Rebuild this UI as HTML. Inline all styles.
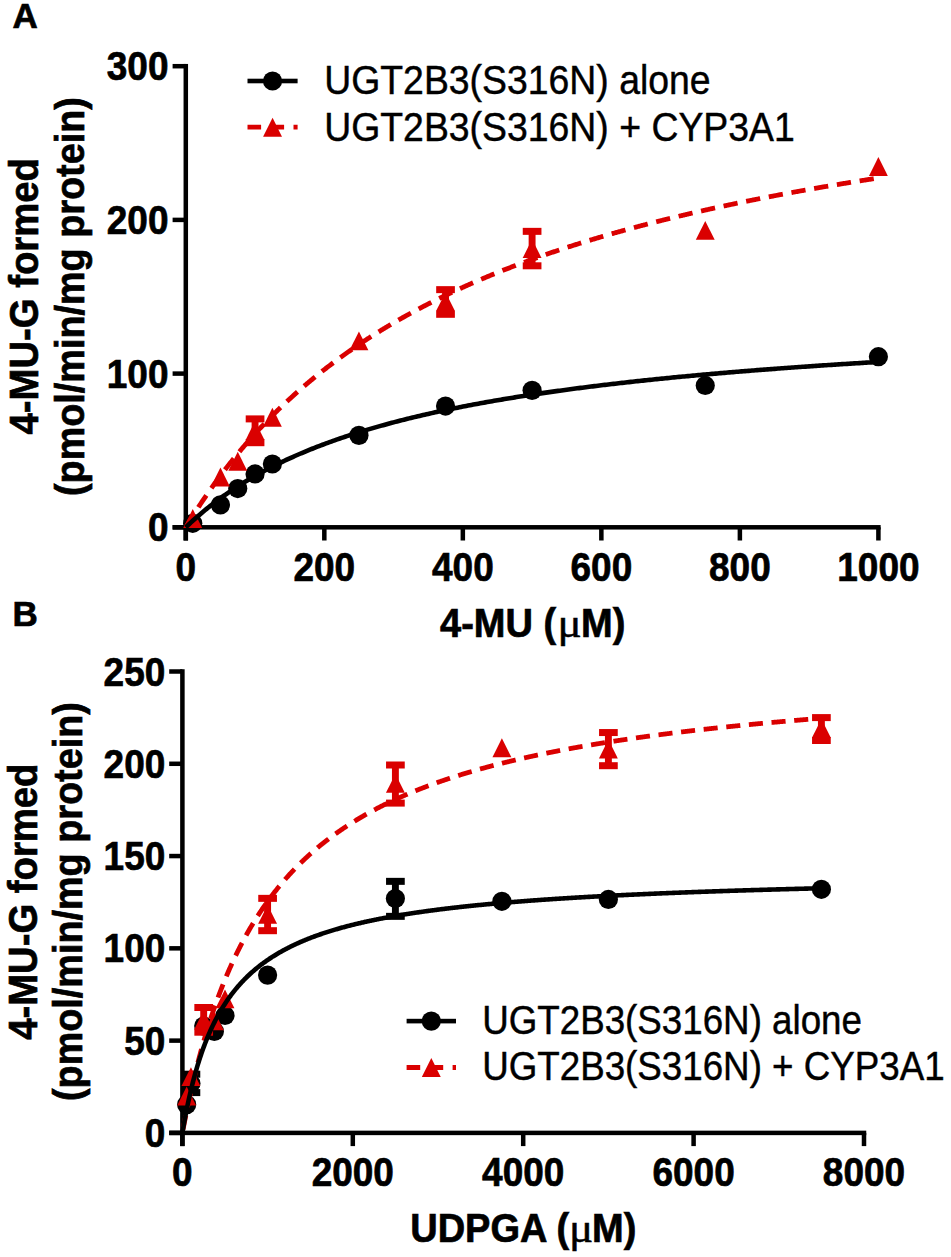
<!DOCTYPE html>
<html><head><meta charset="utf-8"><style>html,body{margin:0;padding:0;background:#fff;width:951px;height:1257px;overflow:hidden}svg{display:block}</style></head>
<body><svg width="951" height="1257" viewBox="0 0 951 1257">
<rect width="951" height="1257" fill="#fff"/>
<text transform="translate(12.60,27.80) scale(1,1)" font-family="Liberation Sans" font-weight="bold" stroke="#000" stroke-width="0.7" font-size="35" text-anchor="start">A</text>
<rect x="183.55" y="63.95" width="4.5" height="476.55" fill="#000"/>
<rect x="172.60" y="525.05" width="708.05" height="4.5" fill="#000"/>
<rect x="172.60" y="525.05" width="13.20" height="4.5" fill="#000"/>
<rect x="172.60" y="371.35" width="13.20" height="4.5" fill="#000"/>
<rect x="172.60" y="217.65" width="13.20" height="4.5" fill="#000"/>
<rect x="172.60" y="63.95" width="13.20" height="4.5" fill="#000"/>
<rect x="183.55" y="527.30" width="4.5" height="13.20" fill="#000"/>
<rect x="322.07" y="527.30" width="4.5" height="13.20" fill="#000"/>
<rect x="460.59" y="527.30" width="4.5" height="13.20" fill="#000"/>
<rect x="599.11" y="527.30" width="4.5" height="13.20" fill="#000"/>
<rect x="737.63" y="527.30" width="4.5" height="13.20" fill="#000"/>
<rect x="876.15" y="527.30" width="4.5" height="13.20" fill="#000"/>
<text transform="translate(168.50,541.30) scale(0.925,1)" font-family="Liberation Sans" font-weight="bold" stroke="#000" stroke-width="0.7" font-size="40" text-anchor="end">0</text>
<text transform="translate(168.50,387.60) scale(0.925,1)" font-family="Liberation Sans" font-weight="bold" stroke="#000" stroke-width="0.7" font-size="40" text-anchor="end">100</text>
<text transform="translate(168.50,233.90) scale(0.925,1)" font-family="Liberation Sans" font-weight="bold" stroke="#000" stroke-width="0.7" font-size="40" text-anchor="end">200</text>
<text transform="translate(168.50,80.20) scale(0.925,1)" font-family="Liberation Sans" font-weight="bold" stroke="#000" stroke-width="0.7" font-size="40" text-anchor="end">300</text>
<text transform="translate(185.80,581.00) scale(0.925,1)" font-family="Liberation Sans" font-weight="bold" stroke="#000" stroke-width="0.7" font-size="40" text-anchor="middle">0</text>
<text transform="translate(324.32,581.00) scale(0.925,1)" font-family="Liberation Sans" font-weight="bold" stroke="#000" stroke-width="0.7" font-size="40" text-anchor="middle">200</text>
<text transform="translate(462.84,581.00) scale(0.925,1)" font-family="Liberation Sans" font-weight="bold" stroke="#000" stroke-width="0.7" font-size="40" text-anchor="middle">400</text>
<text transform="translate(601.36,581.00) scale(0.925,1)" font-family="Liberation Sans" font-weight="bold" stroke="#000" stroke-width="0.7" font-size="40" text-anchor="middle">600</text>
<text transform="translate(739.88,581.00) scale(0.925,1)" font-family="Liberation Sans" font-weight="bold" stroke="#000" stroke-width="0.7" font-size="40" text-anchor="middle">800</text>
<text transform="translate(878.40,581.00) scale(0.925,1)" font-family="Liberation Sans" font-weight="bold" stroke="#000" stroke-width="0.7" font-size="40" text-anchor="middle">1000</text>
<text transform="translate(38.20,296.30) rotate(-90) scale(0.957,1)" font-family="Liberation Sans" font-weight="bold" stroke="#000" stroke-width="0.7" font-size="40" text-anchor="middle">4-MU-G formed</text>
<text transform="translate(83.80,296.60) rotate(-90) scale(0.945,1)" font-family="Liberation Sans" font-weight="bold" stroke="#000" stroke-width="0.7" font-size="40" text-anchor="middle">(pmol/min/mg protein)</text>
<text transform="translate(440.00,636.50) scale(0.95,1)" font-family="Liberation Sans" font-weight="bold" stroke="#000" stroke-width="0.7" font-size="40">4-MU (</text>
<text transform="translate(557.60,636.50) scale(1.1,1)" font-family="Liberation Serif" font-size="41" stroke="#000" stroke-width="0.5">μ</text>
<text transform="translate(581.00,636.50) scale(0.95,1)" font-family="Liberation Sans" font-weight="bold" stroke="#000" stroke-width="0.7" font-size="40">M)</text>
<rect x="247.50" y="78.70" width="50.10" height="4.6" fill="#000"/>
<circle cx="272.55" cy="81.00" r="9.6" fill="#000"/>
<line x1="247.50" y1="127.20" x2="297.60" y2="127.20" stroke="#DA0000" stroke-width="4.8" stroke-dasharray="13.6 9.4"/>
<path d="M272.55 117.75L282.00 136.65L263.10 136.65Z" fill="#DA0000"/>
<text transform="translate(324.20,94.00) scale(0.923,1)" font-family="Liberation Sans" font-size="40.5" stroke="#000" stroke-width="0.45">UGT2B3(S316N) alone</text>
<text transform="translate(324.20,140.60) scale(0.923,1)" font-family="Liberation Sans" font-size="40.5" stroke="#000" stroke-width="0.45">UGT2B3(S316N) + CYP3A1</text>
<circle cx="192.73" cy="523.30" r="9.6" fill="#000"/>
<circle cx="220.43" cy="504.86" r="9.6" fill="#000"/>
<circle cx="237.75" cy="488.57" r="9.6" fill="#000"/>
<circle cx="255.06" cy="473.97" r="9.6" fill="#000"/>
<circle cx="272.38" cy="463.98" r="9.6" fill="#000"/>
<circle cx="358.95" cy="435.39" r="9.6" fill="#000"/>
<circle cx="445.53" cy="406.03" r="9.6" fill="#000"/>
<circle cx="532.10" cy="390.35" r="9.6" fill="#000"/>
<circle cx="705.25" cy="385.43" r="9.6" fill="#000"/>
<circle cx="878.40" cy="356.69" r="9.6" fill="#000"/>
<path d="M192.73 509.09L202.18 527.99L183.28 527.99Z" fill="#DA0000"/>
<path d="M220.43 467.59L229.88 486.49L210.98 486.49Z" fill="#DA0000"/>
<path d="M237.75 451.76L247.19 470.66L228.30 470.66Z" fill="#DA0000"/>
<rect x="251.61" y="418.90" width="6.9" height="23.80" fill="#DA0000"/>
<rect x="245.71" y="415.40" width="18.7" height="7.0" fill="#DA0000"/>
<rect x="245.71" y="439.20" width="18.7" height="7.0" fill="#DA0000"/>
<path d="M255.06 421.02L264.51 439.92L245.61 439.92Z" fill="#DA0000"/>
<path d="M272.38 407.80L281.82 426.70L262.93 426.70Z" fill="#DA0000"/>
<path d="M358.95 331.41L368.40 350.31L349.50 350.31Z" fill="#DA0000"/>
<rect x="442.08" y="289.65" width="6.9" height="24.65" fill="#DA0000"/>
<rect x="436.18" y="286.15" width="18.7" height="7.0" fill="#DA0000"/>
<rect x="436.18" y="310.80" width="18.7" height="7.0" fill="#DA0000"/>
<path d="M445.53 292.22L454.98 311.12L436.08 311.12Z" fill="#DA0000"/>
<rect x="528.65" y="231.35" width="6.9" height="34.45" fill="#DA0000"/>
<rect x="522.75" y="227.85" width="18.7" height="7.0" fill="#DA0000"/>
<rect x="522.75" y="262.30" width="18.7" height="7.0" fill="#DA0000"/>
<path d="M532.10 239.19L541.55 258.09L522.65 258.09Z" fill="#DA0000"/>
<path d="M705.25 220.90L714.70 239.80L695.80 239.80Z" fill="#DA0000"/>
<path d="M878.40 157.12L887.85 176.02L868.95 176.02Z" fill="#DA0000"/>
<path d="M185.80,527.30 L186.49,526.15 L187.19,525.01 L187.88,523.87 L188.57,522.74 L189.26,521.61 L189.96,520.49 L190.65,519.38 L191.34,518.26 L192.03,517.16 L192.73,516.06 L193.42,514.96 L194.11,513.87 L194.80,512.78 L195.50,511.70 L196.19,510.62 L196.88,509.55 L197.57,508.48 L198.27,507.42 L198.96,506.36 L199.65,505.31 L200.34,504.26 L201.04,503.21 L201.73,502.17 L202.42,501.14 L203.12,500.11 L203.81,499.08 L204.50,498.06 L205.19,497.04 L205.89,496.03 L206.58,495.02 L207.27,494.01 L207.96,493.01 L208.66,492.02 L209.35,491.02 L210.04,490.04 L210.73,489.05 L211.43,488.07 L212.12,487.10 L212.81,486.13 L213.50,485.16 L214.20,484.20 L214.89,483.24 L215.58,482.28 L216.27,481.33 L216.97,480.39 L217.66,479.44 L218.35,478.50 L219.04,477.57 L219.74,476.64 L220.43,475.71 L221.12,474.78 L221.82,473.86 L222.51,472.95 L223.20,472.04 L223.89,471.13 L224.59,470.22 L225.28,469.32 L225.97,468.42 L226.66,467.53 L227.36,466.64 L228.05,465.75 L228.74,464.87 L229.43,463.99 L230.13,463.11 L230.82,462.24 L231.51,461.37 L232.20,460.50 L232.90,459.64 L233.59,458.78 L234.28,457.93 L234.97,457.07 L235.67,456.22 L236.36,455.38 L237.05,454.54 L237.75,453.70 L238.44,452.86 L239.13,452.03 L239.82,451.20 L240.52,450.37 L241.21,449.55 L241.90,448.73 L242.59,447.91 L243.29,447.10 L243.98,446.29 L244.67,445.48 L245.36,444.68 L246.06,443.88 L246.75,443.08 L247.44,442.29 L248.13,441.49 L248.83,440.71 L249.52,439.92 L250.21,439.14 L250.90,438.36 L251.60,437.58 L252.29,436.81 L252.98,436.03 L253.67,435.27 L254.37,434.50 L255.06,433.74 L255.75,432.98 L256.45,432.22 L257.14,431.47 L257.83,430.72 L258.52,429.97 L259.22,429.22 L259.91,428.48 L260.60,427.74 L261.29,427.00 L261.99,426.27 L262.68,425.53 L263.37,424.80 L264.06,424.08 L264.76,423.35 L265.45,422.63 L266.14,421.91 L266.83,421.20 L267.53,420.48 L268.22,419.77 L268.91,419.06 L269.60,418.36 L270.30,417.65 L270.99,416.95 L271.68,416.25 L272.38,415.56 L273.07,414.86 L273.76,414.17 L274.45,413.48 L275.15,412.80 L275.84,412.11 L276.53,411.43 L277.22,410.75 L277.92,410.08 L278.61,409.40 L279.30,408.73 L279.99,408.06 L280.69,407.39 L281.38,406.73 L282.07,406.07 L282.76,405.41 L283.46,404.75 L284.15,404.09 L284.84,403.44 L285.53,402.79 L286.23,402.14 L286.92,401.49 L287.61,400.85 L288.30,400.21 L289.00,399.57 L289.69,398.93 L290.38,398.29 L291.08,397.66 L291.77,397.03 L292.46,396.40 L293.15,395.77 L293.85,395.15 L294.54,394.52 L295.23,393.90 L295.92,393.28 L296.62,392.67 L297.31,392.05 L298.00,391.44 L298.69,390.83 L299.39,390.22 L300.08,389.61 L300.77,389.01 L301.46,388.41 L302.16,387.81 L302.85,387.21 L303.54,386.61 L304.23,386.02 L304.93,385.42 L305.62,384.83 L306.31,384.25 L307.00,383.66 L307.70,383.07 L308.39,382.49 L309.08,381.91 L309.78,381.33 L310.47,380.75 L311.16,380.18 L311.85,379.60 L312.55,379.03 L313.24,378.46 L313.93,377.90 L314.62,377.33 L315.32,376.76 L316.01,376.20 L316.70,375.64 L317.39,375.08 L318.09,374.53 L318.78,373.97 L319.47,373.42 L320.16,372.86 L320.86,372.31 L321.55,371.77 L322.24,371.22 L322.93,370.67 L323.63,370.13 L324.32,369.59 L325.01,369.05 L325.71,368.51 L326.40,367.98 L327.09,367.44 L327.78,366.91 L328.48,366.38 L329.17,365.85 L329.86,365.32 L330.55,364.79 L331.25,364.27 L331.94,363.74 L332.63,363.22 L333.32,362.70 L334.02,362.18 L334.71,361.67 L335.40,361.15 L336.09,360.64 L336.79,360.13 L337.48,359.61 L338.17,359.11 L338.86,358.60 L339.56,358.09 L340.25,357.59 L340.94,357.09 L341.63,356.58 L342.33,356.08 L343.02,355.59 L343.71,355.09 L344.41,354.59 L345.10,354.10 L345.79,353.61 L346.48,353.12 L347.18,352.63 L347.87,352.14 L348.56,351.65 L349.25,351.17 L349.95,350.68 L350.64,350.20 L351.33,349.72 L352.02,349.24 L352.72,348.76 L353.41,348.29 L354.10,347.81 L354.79,347.34 L355.49,346.87 L356.18,346.40 L356.87,345.93 L357.56,345.46 L358.26,344.99 L358.95,344.53 L359.64,344.06 L360.34,343.60 L361.03,343.14 L361.72,342.68 L362.41,342.22 L363.11,341.76 L363.80,341.31 L364.49,340.85 L365.18,340.40 L365.88,339.95 L366.57,339.50 L367.26,339.05 L367.95,338.60 L368.65,338.15 L369.34,337.70 L370.03,337.26 L370.72,336.82 L371.42,336.38 L372.11,335.93 L372.80,335.49 L373.49,335.06 L374.19,334.62 L374.88,334.18 L375.57,333.75 L376.26,333.32 L376.96,332.88 L377.65,332.45 L378.34,332.02 L379.04,331.60 L379.73,331.17 L380.42,330.74 L381.11,330.32 L381.81,329.89 L382.50,329.47 L383.19,329.05 L383.88,328.63 L384.58,328.21 L385.27,327.79 L385.96,327.38 L386.65,326.96 L387.35,326.55 L388.04,326.13 L388.73,325.72 L389.42,325.31 L390.12,324.90 L390.81,324.49 L391.50,324.08 L392.19,323.68 L392.89,323.27 L393.58,322.87 L394.27,322.46 L394.97,322.06 L395.66,321.66 L396.35,321.26 L397.04,320.86 L397.74,320.46 L398.43,320.07 L399.12,319.67 L399.81,319.28 L400.51,318.88 L401.20,318.49 L401.89,318.10 L402.58,317.71 L403.28,317.32 L403.97,316.93 L404.66,316.55 L405.35,316.16 L406.05,315.77 L406.74,315.39 L407.43,315.01 L408.12,314.62 L408.82,314.24 L409.51,313.86 L410.20,313.48 L410.89,313.11 L411.59,312.73 L412.28,312.35 L412.97,311.98 L413.67,311.60 L414.36,311.23 L415.05,310.86 L415.74,310.49 L416.44,310.12 L417.13,309.75 L417.82,309.38 L418.51,309.01 L419.21,308.64 L419.90,308.28 L420.59,307.91 L421.28,307.55 L421.98,307.19 L422.67,306.83 L423.36,306.46 L424.05,306.10 L424.75,305.75 L425.44,305.39 L426.13,305.03 L426.82,304.67 L427.52,304.32 L428.21,303.96 L428.90,303.61 L429.60,303.26 L430.29,302.91 L430.98,302.55 L431.67,302.20 L432.37,301.86 L433.06,301.51 L433.75,301.16 L434.44,300.81 L435.14,300.47 L435.83,300.12 L436.52,299.78 L437.21,299.44 L437.91,299.09 L438.60,298.75 L439.29,298.41 L439.98,298.07 L440.68,297.73 L441.37,297.40 L442.06,297.06 L442.75,296.72 L443.45,296.39 L444.14,296.05 L444.83,295.72 L445.53,295.39 L446.22,295.05 L446.91,294.72 L447.60,294.39 L448.30,294.06 L448.99,293.73 L449.68,293.41 L450.37,293.08 L451.07,292.75 L451.76,292.43 L452.45,292.10 L453.14,291.78 L453.84,291.45 L454.53,291.13 L455.22,290.81 L455.91,290.49 L456.61,290.17 L457.30,289.85 L457.99,289.53 L458.68,289.21 L459.38,288.89 L460.07,288.58 L460.76,288.26 L461.45,287.95 L462.15,287.63 L462.84,287.32 L463.53,287.01 L464.23,286.70 L464.92,286.39 L465.61,286.07 L466.30,285.77 L467.00,285.46 L467.69,285.15 L468.38,284.84 L469.07,284.53 L469.77,284.23 L470.46,283.92 L471.15,283.62 L471.84,283.31 L472.54,283.01 L473.23,282.71 L473.92,282.41 L474.61,282.11 L475.31,281.81 L476.00,281.51 L476.69,281.21 L477.38,280.91 L478.08,280.61 L478.77,280.32 L479.46,280.02 L480.16,279.72 L480.85,279.43 L481.54,279.14 L482.23,278.84 L482.93,278.55 L483.62,278.26 L484.31,277.97 L485.00,277.68 L485.70,277.39 L486.39,277.10 L487.08,276.81 L487.77,276.52 L488.47,276.23 L489.16,275.95 L489.85,275.66 L490.54,275.37 L491.24,275.09 L491.93,274.80 L492.62,274.52 L493.31,274.24 L494.01,273.96 L494.70,273.68 L495.39,273.39 L496.08,273.11 L496.78,272.83 L497.47,272.56 L498.16,272.28 L498.86,272.00 L499.55,271.72 L500.24,271.45 L500.93,271.17 L501.63,270.89 L502.32,270.62 L503.01,270.35 L503.70,270.07 L504.40,269.80 L505.09,269.53 L505.78,269.26 L506.47,268.99 L507.17,268.72 L507.86,268.45 L508.55,268.18 L509.24,267.91 L509.94,267.64 L510.63,267.37 L511.32,267.11 L512.01,266.84 L512.71,266.57 L513.40,266.31 L514.09,266.04 L514.79,265.78 L515.48,265.52 L516.17,265.25 L516.86,264.99 L517.56,264.73 L518.25,264.47 L518.94,264.21 L519.63,263.95 L520.33,263.69 L521.02,263.43 L521.71,263.17 L522.40,262.92 L523.10,262.66 L523.79,262.40 L524.48,262.15 L525.17,261.89 L525.87,261.64 L526.56,261.38 L527.25,261.13 L527.94,260.88 L528.64,260.62 L529.33,260.37 L530.02,260.12 L530.71,259.87 L531.41,259.62 L532.10,259.37 L532.79,259.12 L533.49,258.87 L534.18,258.62 L534.87,258.37 L535.56,258.13 L536.26,257.88 L536.95,257.63 L537.64,257.39 L538.33,257.14 L539.03,256.90 L539.72,256.65 L540.41,256.41 L541.10,256.17 L541.80,255.92 L542.49,255.68 L543.18,255.44 L543.87,255.20 L544.57,254.96 L545.26,254.72 L545.95,254.48 L546.64,254.24 L547.34,254.00 L548.03,253.76 L548.72,253.53 L549.41,253.29 L550.11,253.05 L550.80,252.82 L551.49,252.58 L552.19,252.34 L552.88,252.11 L553.57,251.88 L554.26,251.64 L554.96,251.41 L555.65,251.18 L556.34,250.94 L557.03,250.71 L557.73,250.48 L558.42,250.25 L559.11,250.02 L559.80,249.79 L560.50,249.56 L561.19,249.33 L561.88,249.10 L562.57,248.88 L563.27,248.65 L563.96,248.42 L564.65,248.19 L565.34,247.97 L566.04,247.74 L566.73,247.52 L567.42,247.29 L568.12,247.07 L568.81,246.84 L569.50,246.62 L570.19,246.40 L570.89,246.17 L571.58,245.95 L572.27,245.73 L572.96,245.51 L573.66,245.29 L574.35,245.07 L575.04,244.85 L575.73,244.63 L576.43,244.41 L577.12,244.19 L577.81,243.97 L578.50,243.76 L579.20,243.54 L579.89,243.32 L580.58,243.11 L581.27,242.89 L581.97,242.67 L582.66,242.46 L583.35,242.25 L584.05,242.03 L584.74,241.82 L585.43,241.60 L586.12,241.39 L586.82,241.18 L587.51,240.97 L588.20,240.75 L588.89,240.54 L589.59,240.33 L590.28,240.12 L590.97,239.91 L591.66,239.70 L592.36,239.49 L593.05,239.28 L593.74,239.08 L594.43,238.87 L595.13,238.66 L595.82,238.45 L596.51,238.25 L597.20,238.04 L597.90,237.83 L598.59,237.63 L599.28,237.42 L599.97,237.22 L600.67,237.01 L601.36,236.81 L602.05,236.61 L602.75,236.40 L603.44,236.20 L604.13,236.00 L604.82,235.80 L605.52,235.59 L606.21,235.39 L606.90,235.19 L607.59,234.99 L608.29,234.79 L608.98,234.59 L609.67,234.39 L610.36,234.19 L611.06,233.99 L611.75,233.80 L612.44,233.60 L613.13,233.40 L613.83,233.20 L614.52,233.01 L615.21,232.81 L615.90,232.61 L616.60,232.42 L617.29,232.22 L617.98,232.03 L618.67,231.83 L619.37,231.64 L620.06,231.45 L620.75,231.25 L621.45,231.06 L622.14,230.87 L622.83,230.68 L623.52,230.48 L624.22,230.29 L624.91,230.10 L625.60,229.91 L626.29,229.72 L626.99,229.53 L627.68,229.34 L628.37,229.15 L629.06,228.96 L629.76,228.77 L630.45,228.58 L631.14,228.40 L631.83,228.21 L632.53,228.02 L633.22,227.83 L633.91,227.65 L634.60,227.46 L635.30,227.27 L635.99,227.09 L636.68,226.90 L637.38,226.72 L638.07,226.53 L638.76,226.35 L639.45,226.17 L640.15,225.98 L640.84,225.80 L641.53,225.62 L642.22,225.43 L642.92,225.25 L643.61,225.07 L644.30,224.89 L644.99,224.71 L645.69,224.52 L646.38,224.34 L647.07,224.16 L647.76,223.98 L648.46,223.80 L649.15,223.62 L649.84,223.45 L650.53,223.27 L651.23,223.09 L651.92,222.91 L652.61,222.73 L653.31,222.56 L654.00,222.38 L654.69,222.20 L655.38,222.03 L656.08,221.85 L656.77,221.67 L657.46,221.50 L658.15,221.32 L658.85,221.15 L659.54,220.97 L660.23,220.80 L660.92,220.63 L661.62,220.45 L662.31,220.28 L663.00,220.11 L663.69,219.93 L664.39,219.76 L665.08,219.59 L665.77,219.42 L666.46,219.25 L667.16,219.07 L667.85,218.90 L668.54,218.73 L669.23,218.56 L669.93,218.39 L670.62,218.22 L671.31,218.05 L672.01,217.88 L672.70,217.72 L673.39,217.55 L674.08,217.38 L674.78,217.21 L675.47,217.04 L676.16,216.88 L676.85,216.71 L677.55,216.54 L678.24,216.38 L678.93,216.21 L679.62,216.04 L680.32,215.88 L681.01,215.71 L681.70,215.55 L682.39,215.38 L683.09,215.22 L683.78,215.05 L684.47,214.89 L685.16,214.73 L685.86,214.56 L686.55,214.40 L687.24,214.24 L687.93,214.08 L688.63,213.91 L689.32,213.75 L690.01,213.59 L690.71,213.43 L691.40,213.27 L692.09,213.11 L692.78,212.95 L693.48,212.79 L694.17,212.63 L694.86,212.47 L695.55,212.31 L696.25,212.15 L696.94,211.99 L697.63,211.83 L698.32,211.67 L699.02,211.51 L699.71,211.36 L700.40,211.20 L701.09,211.04 L701.79,210.89 L702.48,210.73 L703.17,210.57 L703.86,210.42 L704.56,210.26 L705.25,210.10 L705.94,209.95 L706.64,209.79 L707.33,209.64 L708.02,209.48 L708.71,209.33 L709.41,209.18 L710.10,209.02 L710.79,208.87 L711.48,208.72 L712.18,208.56 L712.87,208.41 L713.56,208.26 L714.25,208.10 L714.95,207.95 L715.64,207.80 L716.33,207.65 L717.02,207.50 L717.72,207.35 L718.41,207.20 L719.10,207.05 L719.79,206.90 L720.49,206.75 L721.18,206.60 L721.87,206.45 L722.57,206.30 L723.26,206.15 L723.95,206.00 L724.64,205.85 L725.34,205.70 L726.03,205.55 L726.72,205.41 L727.41,205.26 L728.11,205.11 L728.80,204.96 L729.49,204.82 L730.18,204.67 L730.88,204.52 L731.57,204.38 L732.26,204.23 L732.95,204.09 L733.65,203.94 L734.34,203.80 L735.03,203.65 L735.72,203.51 L736.42,203.36 L737.11,203.22 L737.80,203.07 L738.49,202.93 L739.19,202.79 L739.88,202.64 L740.57,202.50 L741.27,202.36 L741.96,202.21 L742.65,202.07 L743.34,201.93 L744.04,201.79 L744.73,201.65 L745.42,201.50 L746.11,201.36 L746.81,201.22 L747.50,201.08 L748.19,200.94 L748.88,200.80 L749.58,200.66 L750.27,200.52 L750.96,200.38 L751.65,200.24 L752.35,200.10 L753.04,199.96 L753.73,199.82 L754.42,199.69 L755.12,199.55 L755.81,199.41 L756.50,199.27 L757.19,199.13 L757.89,199.00 L758.58,198.86 L759.27,198.72 L759.97,198.59 L760.66,198.45 L761.35,198.31 L762.04,198.18 L762.74,198.04 L763.43,197.90 L764.12,197.77 L764.81,197.63 L765.51,197.50 L766.20,197.36 L766.89,197.23 L767.58,197.09 L768.28,196.96 L768.97,196.83 L769.66,196.69 L770.35,196.56 L771.05,196.43 L771.74,196.29 L772.43,196.16 L773.12,196.03 L773.82,195.89 L774.51,195.76 L775.20,195.63 L775.90,195.50 L776.59,195.37 L777.28,195.23 L777.97,195.10 L778.67,194.97 L779.36,194.84 L780.05,194.71 L780.74,194.58 L781.44,194.45 L782.13,194.32 L782.82,194.19 L783.51,194.06 L784.21,193.93 L784.90,193.80 L785.59,193.67 L786.28,193.54 L786.98,193.41 L787.67,193.28 L788.36,193.16 L789.05,193.03 L789.75,192.90 L790.44,192.77 L791.13,192.64 L791.83,192.52 L792.52,192.39 L793.21,192.26 L793.90,192.14 L794.60,192.01 L795.29,191.88 L795.98,191.76 L796.67,191.63 L797.37,191.51 L798.06,191.38 L798.75,191.25 L799.44,191.13 L800.14,191.00 L800.83,190.88 L801.52,190.75 L802.21,190.63 L802.91,190.51 L803.60,190.38 L804.29,190.26 L804.98,190.13 L805.68,190.01 L806.37,189.89 L807.06,189.76 L807.75,189.64 L808.45,189.52 L809.14,189.39 L809.83,189.27 L810.53,189.15 L811.22,189.03 L811.91,188.91 L812.60,188.78 L813.30,188.66 L813.99,188.54 L814.68,188.42 L815.37,188.30 L816.07,188.18 L816.76,188.06 L817.45,187.94 L818.14,187.82 L818.84,187.70 L819.53,187.58 L820.22,187.46 L820.91,187.34 L821.61,187.22 L822.30,187.10 L822.99,186.98 L823.68,186.86 L824.38,186.74 L825.07,186.62 L825.76,186.50 L826.45,186.39 L827.15,186.27 L827.84,186.15 L828.53,186.03 L829.23,185.92 L829.92,185.80 L830.61,185.68 L831.30,185.56 L832.00,185.45 L832.69,185.33 L833.38,185.21 L834.07,185.10 L834.77,184.98 L835.46,184.87 L836.15,184.75 L836.84,184.63 L837.54,184.52 L838.23,184.40 L838.92,184.29 L839.61,184.17 L840.31,184.06 L841.00,183.94 L841.69,183.83 L842.38,183.72 L843.08,183.60 L843.77,183.49 L844.46,183.37 L845.16,183.26 L845.85,183.15 L846.54,183.03 L847.23,182.92 L847.93,182.81 L848.62,182.69 L849.31,182.58 L850.00,182.47 L850.70,182.36 L851.39,182.24 L852.08,182.13 L852.77,182.02 L853.47,181.91 L854.16,181.80 L854.85,181.69 L855.54,181.57 L856.24,181.46 L856.93,181.35 L857.62,181.24 L858.31,181.13 L859.01,181.02 L859.70,180.91 L860.39,180.80 L861.09,180.69 L861.78,180.58 L862.47,180.47 L863.16,180.36 L863.86,180.25 L864.55,180.14 L865.24,180.03 L865.93,179.93 L866.63,179.82 L867.32,179.71 L868.01,179.60 L868.70,179.49 L869.40,179.38 L870.09,179.28 L870.78,179.17 L871.47,179.06 L872.17,178.95 L872.86,178.85 L873.55,178.74 L874.24,178.63 L874.94,178.52 L875.63,178.42 L876.32,178.31 L877.01,178.20 L877.71,178.10 L878.40,177.99" fill="none" stroke="#DA0000" stroke-width="4.8" stroke-dasharray="14.3 8.76" stroke-dashoffset="22.5" stroke-linejoin="round"/>
<path d="M185.80,527.30 L187.53,525.64 L189.26,524.00 L190.99,522.39 L192.73,520.80 L194.46,519.23 L196.19,517.69 L197.92,516.17 L199.65,514.67 L201.38,513.19 L203.12,511.73 L204.85,510.30 L206.58,508.88 L208.31,507.49 L210.04,506.11 L211.77,504.75 L213.50,503.41 L215.24,502.09 L216.97,500.78 L218.70,499.50 L220.43,498.23 L222.16,496.98 L223.89,495.74 L225.62,494.52 L227.36,493.31 L229.09,492.13 L230.82,490.95 L232.55,489.79 L234.28,488.65 L236.01,487.52 L237.75,486.40 L239.48,485.30 L241.21,484.21 L242.94,483.13 L244.67,482.07 L246.40,481.02 L248.13,479.98 L249.87,478.96 L251.60,477.95 L253.33,476.95 L255.06,475.96 L256.79,474.98 L258.52,474.01 L260.25,473.06 L261.99,472.11 L263.72,471.18 L265.45,470.26 L267.18,469.34 L268.91,468.44 L270.64,467.55 L272.38,466.67 L274.11,465.79 L275.84,464.93 L277.57,464.08 L279.30,463.23 L281.03,462.40 L282.76,461.57 L284.50,460.75 L286.23,459.94 L287.96,459.14 L289.69,458.35 L291.42,457.56 L293.15,456.79 L294.88,456.02 L296.62,455.26 L298.35,454.51 L300.08,453.76 L301.81,453.03 L303.54,452.30 L305.27,451.57 L307.00,450.86 L308.74,450.15 L310.47,449.45 L312.20,448.75 L313.93,448.07 L315.66,447.38 L317.39,446.71 L319.13,446.04 L320.86,445.38 L322.59,444.73 L324.32,444.08 L326.05,443.43 L327.78,442.80 L329.51,442.17 L331.25,441.54 L332.98,440.92 L334.71,440.31 L336.44,439.70 L338.17,439.10 L339.90,438.50 L341.63,437.91 L343.37,437.32 L345.10,436.74 L346.83,436.17 L348.56,435.60 L350.29,435.03 L352.02,434.47 L353.76,433.92 L355.49,433.36 L357.22,432.82 L358.95,432.28 L360.68,431.74 L362.41,431.21 L364.14,430.68 L365.88,430.16 L367.61,429.64 L369.34,429.13 L371.07,428.62 L372.80,428.11 L374.53,427.61 L376.26,427.11 L378.00,426.62 L379.73,426.13 L381.46,425.64 L383.19,425.16 L384.92,424.69 L386.65,424.21 L388.39,423.74 L390.12,423.28 L391.85,422.82 L393.58,422.36 L395.31,421.90 L397.04,421.45 L398.77,421.00 L400.51,420.56 L402.24,420.12 L403.97,419.68 L405.70,419.25 L407.43,418.82 L409.16,418.39 L410.89,417.97 L412.63,417.55 L414.36,417.13 L416.09,416.72 L417.82,416.30 L419.55,415.90 L421.28,415.49 L423.02,415.09 L424.75,414.69 L426.48,414.29 L428.21,413.90 L429.94,413.51 L431.67,413.12 L433.40,412.74 L435.14,412.36 L436.87,411.98 L438.60,411.60 L440.33,411.23 L442.06,410.86 L443.79,410.49 L445.53,410.12 L447.26,409.76 L448.99,409.40 L450.72,409.04 L452.45,408.69 L454.18,408.34 L455.91,407.99 L457.65,407.64 L459.38,407.29 L461.11,406.95 L462.84,406.61 L464.57,406.27 L466.30,405.93 L468.03,405.60 L469.77,405.27 L471.50,404.94 L473.23,404.61 L474.96,404.29 L476.69,403.96 L478.42,403.64 L480.16,403.32 L481.89,403.01 L483.62,402.69 L485.35,402.38 L487.08,402.07 L488.81,401.76 L490.54,401.46 L492.28,401.15 L494.01,400.85 L495.74,400.55 L497.47,400.25 L499.20,399.96 L500.93,399.66 L502.66,399.37 L504.40,399.08 L506.13,398.79 L507.86,398.50 L509.59,398.22 L511.32,397.93 L513.05,397.65 L514.79,397.37 L516.52,397.09 L518.25,396.82 L519.98,396.54 L521.71,396.27 L523.44,396.00 L525.17,395.73 L526.91,395.46 L528.64,395.19 L530.37,394.93 L532.10,394.66 L533.83,394.40 L535.56,394.14 L537.29,393.88 L539.03,393.63 L540.76,393.37 L542.49,393.12 L544.22,392.87 L545.95,392.61 L547.68,392.36 L549.41,392.12 L551.15,391.87 L552.88,391.63 L554.61,391.38 L556.34,391.14 L558.07,390.90 L559.80,390.66 L561.54,390.42 L563.27,390.18 L565.00,389.95 L566.73,389.71 L568.46,389.48 L570.19,389.25 L571.92,389.02 L573.66,388.79 L575.39,388.56 L577.12,388.34 L578.85,388.11 L580.58,387.89 L582.31,387.67 L584.05,387.44 L585.78,387.22 L587.51,387.01 L589.24,386.79 L590.97,386.57 L592.70,386.36 L594.43,386.14 L596.17,385.93 L597.90,385.72 L599.63,385.51 L601.36,385.30 L603.09,385.09 L604.82,384.88 L606.55,384.68 L608.29,384.47 L610.02,384.27 L611.75,384.06 L613.48,383.86 L615.21,383.66 L616.94,383.46 L618.67,383.26 L620.41,383.06 L622.14,382.87 L623.87,382.67 L625.60,382.48 L627.33,382.28 L629.06,382.09 L630.80,381.90 L632.53,381.71 L634.26,381.52 L635.99,381.33 L637.72,381.14 L639.45,380.96 L641.18,380.77 L642.92,380.59 L644.65,380.40 L646.38,380.22 L648.11,380.04 L649.84,379.86 L651.57,379.68 L653.31,379.50 L655.04,379.32 L656.77,379.14 L658.50,378.96 L660.23,378.79 L661.96,378.61 L663.69,378.44 L665.43,378.27 L667.16,378.09 L668.89,377.92 L670.62,377.75 L672.35,377.58 L674.08,377.41 L675.81,377.25 L677.55,377.08 L679.28,376.91 L681.01,376.75 L682.74,376.58 L684.47,376.42 L686.20,376.25 L687.93,376.09 L689.67,375.93 L691.40,375.77 L693.13,375.61 L694.86,375.45 L696.59,375.29 L698.32,375.13 L700.06,374.97 L701.79,374.82 L703.52,374.66 L705.25,374.51 L706.98,374.35 L708.71,374.20 L710.44,374.04 L712.18,373.89 L713.91,373.74 L715.64,373.59 L717.37,373.44 L719.10,373.29 L720.83,373.14 L722.57,372.99 L724.30,372.84 L726.03,372.70 L727.76,372.55 L729.49,372.41 L731.22,372.26 L732.95,372.12 L734.69,371.97 L736.42,371.83 L738.15,371.69 L739.88,371.55 L741.61,371.40 L743.34,371.26 L745.07,371.12 L746.81,370.99 L748.54,370.85 L750.27,370.71 L752.00,370.57 L753.73,370.43 L755.46,370.30 L757.19,370.16 L758.93,370.03 L760.66,369.89 L762.39,369.76 L764.12,369.63 L765.85,369.49 L767.58,369.36 L769.32,369.23 L771.05,369.10 L772.78,368.97 L774.51,368.84 L776.24,368.71 L777.97,368.58 L779.70,368.45 L781.44,368.32 L783.17,368.20 L784.90,368.07 L786.63,367.94 L788.36,367.82 L790.09,367.69 L791.83,367.57 L793.56,367.44 L795.29,367.32 L797.02,367.20 L798.75,367.08 L800.48,366.95 L802.21,366.83 L803.95,366.71 L805.68,366.59 L807.41,366.47 L809.14,366.35 L810.87,366.23 L812.60,366.11 L814.33,365.99 L816.07,365.88 L817.80,365.76 L819.53,365.64 L821.26,365.53 L822.99,365.41 L824.72,365.30 L826.45,365.18 L828.19,365.07 L829.92,364.95 L831.65,364.84 L833.38,364.73 L835.11,364.61 L836.84,364.50 L838.58,364.39 L840.31,364.28 L842.04,364.17 L843.77,364.06 L845.50,363.95 L847.23,363.84 L848.96,363.73 L850.70,363.62 L852.43,363.51 L854.16,363.40 L855.89,363.30 L857.62,363.19 L859.35,363.08 L861.09,362.98 L862.82,362.87 L864.55,362.77 L866.28,362.66 L868.01,362.56 L869.74,362.45 L871.47,362.35 L873.21,362.25 L874.94,362.14 L876.67,362.04 L878.40,361.94" fill="none" stroke="#000" stroke-width="4.6" stroke-linejoin="round"/>
<text transform="translate(12.60,625.60) scale(1,1)" font-family="Liberation Sans" font-weight="bold" stroke="#000" stroke-width="0.7" font-size="35" text-anchor="start">B</text>
<rect x="180.15" y="669.25" width="4.5" height="476.85" fill="#000"/>
<rect x="169.20" y="1130.65" width="697.05" height="4.5" fill="#000"/>
<rect x="169.20" y="1130.65" width="13.20" height="4.5" fill="#000"/>
<rect x="169.20" y="1038.37" width="13.20" height="4.5" fill="#000"/>
<rect x="169.20" y="946.09" width="13.20" height="4.5" fill="#000"/>
<rect x="169.20" y="853.81" width="13.20" height="4.5" fill="#000"/>
<rect x="169.20" y="761.53" width="13.20" height="4.5" fill="#000"/>
<rect x="169.20" y="669.25" width="13.20" height="4.5" fill="#000"/>
<rect x="180.15" y="1132.90" width="4.5" height="13.20" fill="#000"/>
<rect x="350.55" y="1132.90" width="4.5" height="13.20" fill="#000"/>
<rect x="520.95" y="1132.90" width="4.5" height="13.20" fill="#000"/>
<rect x="691.35" y="1132.90" width="4.5" height="13.20" fill="#000"/>
<rect x="861.75" y="1132.90" width="4.5" height="13.20" fill="#000"/>
<text transform="translate(165.30,1146.90) scale(0.925,1)" font-family="Liberation Sans" font-weight="bold" stroke="#000" stroke-width="0.7" font-size="40" text-anchor="end">0</text>
<text transform="translate(165.30,1054.62) scale(0.925,1)" font-family="Liberation Sans" font-weight="bold" stroke="#000" stroke-width="0.7" font-size="40" text-anchor="end">50</text>
<text transform="translate(165.30,962.34) scale(0.925,1)" font-family="Liberation Sans" font-weight="bold" stroke="#000" stroke-width="0.7" font-size="40" text-anchor="end">100</text>
<text transform="translate(165.30,870.06) scale(0.925,1)" font-family="Liberation Sans" font-weight="bold" stroke="#000" stroke-width="0.7" font-size="40" text-anchor="end">150</text>
<text transform="translate(165.30,777.78) scale(0.925,1)" font-family="Liberation Sans" font-weight="bold" stroke="#000" stroke-width="0.7" font-size="40" text-anchor="end">200</text>
<text transform="translate(165.30,685.50) scale(0.925,1)" font-family="Liberation Sans" font-weight="bold" stroke="#000" stroke-width="0.7" font-size="40" text-anchor="end">250</text>
<text transform="translate(182.40,1186.00) scale(0.925,1)" font-family="Liberation Sans" font-weight="bold" stroke="#000" stroke-width="0.7" font-size="40" text-anchor="middle">0</text>
<text transform="translate(352.80,1186.00) scale(0.925,1)" font-family="Liberation Sans" font-weight="bold" stroke="#000" stroke-width="0.7" font-size="40" text-anchor="middle">2000</text>
<text transform="translate(523.20,1186.00) scale(0.925,1)" font-family="Liberation Sans" font-weight="bold" stroke="#000" stroke-width="0.7" font-size="40" text-anchor="middle">4000</text>
<text transform="translate(693.60,1186.00) scale(0.925,1)" font-family="Liberation Sans" font-weight="bold" stroke="#000" stroke-width="0.7" font-size="40" text-anchor="middle">6000</text>
<text transform="translate(864.00,1186.00) scale(0.925,1)" font-family="Liberation Sans" font-weight="bold" stroke="#000" stroke-width="0.7" font-size="40" text-anchor="middle">8000</text>
<text transform="translate(36.80,901.70) rotate(-90) scale(0.957,1)" font-family="Liberation Sans" font-weight="bold" stroke="#000" stroke-width="0.7" font-size="40" text-anchor="middle">4-MU-G formed</text>
<text transform="translate(82.40,901.60) rotate(-90) scale(0.945,1)" font-family="Liberation Sans" font-weight="bold" stroke="#000" stroke-width="0.7" font-size="40" text-anchor="middle">(pmol/min/mg protein)</text>
<text transform="translate(410.20,1241.50) scale(0.95,1)" font-family="Liberation Sans" font-weight="bold" stroke="#000" stroke-width="0.7" font-size="40">UDPGA (</text>
<text transform="translate(569.00,1241.50) scale(1.1,1)" font-family="Liberation Serif" font-size="41" stroke="#000" stroke-width="0.5">μ</text>
<text transform="translate(592.00,1241.50) scale(0.95,1)" font-family="Liberation Sans" font-weight="bold" stroke="#000" stroke-width="0.7" font-size="40">M)</text>
<rect x="406.60" y="1018.80" width="49.40" height="4.6" fill="#000"/>
<circle cx="431.30" cy="1021.10" r="9.6" fill="#000"/>
<line x1="406.60" y1="1067.50" x2="456.00" y2="1067.50" stroke="#DA0000" stroke-width="4.8" stroke-dasharray="13.6 9.4"/>
<path d="M431.30 1058.05L440.75 1076.95L421.85 1076.95Z" fill="#DA0000"/>
<text transform="translate(482.20,1033.90) scale(0.912,1)" font-family="Liberation Sans" font-size="40.3" stroke="#000" stroke-width="0.45">UGT2B3(S316N) alone</text>
<text transform="translate(482.20,1080.20) scale(0.912,1)" font-family="Liberation Sans" font-size="40.3" stroke="#000" stroke-width="0.45">UGT2B3(S316N) + CYP3A1</text>
<circle cx="186.66" cy="1104.66" r="9.6" fill="#000"/>
<rect x="187.47" y="1074.20" width="6.9" height="18.40" fill="#000"/>
<rect x="181.57" y="1070.70" width="18.7" height="7.0" fill="#000"/>
<rect x="181.57" y="1089.10" width="18.7" height="7.0" fill="#000"/>
<circle cx="190.92" cy="1083.44" r="9.6" fill="#000"/>
<circle cx="203.70" cy="1026.04" r="9.6" fill="#000"/>
<circle cx="214.35" cy="1031.39" r="9.6" fill="#000"/>
<circle cx="225.00" cy="1015.52" r="9.6" fill="#000"/>
<circle cx="267.60" cy="975.10" r="9.6" fill="#000"/>
<rect x="391.95" y="881.35" width="6.9" height="35.00" fill="#000"/>
<rect x="386.05" y="877.85" width="18.7" height="7.0" fill="#000"/>
<rect x="386.05" y="912.85" width="18.7" height="7.0" fill="#000"/>
<circle cx="395.40" cy="898.51" r="9.6" fill="#000"/>
<circle cx="501.90" cy="901.28" r="9.6" fill="#000"/>
<circle cx="608.40" cy="899.43" r="9.6" fill="#000"/>
<circle cx="821.40" cy="889.28" r="9.6" fill="#000"/>
<path d="M186.66 1086.54L196.11 1105.44L177.21 1105.44Z" fill="#DA0000"/>
<path d="M190.92 1067.16L200.37 1086.06L181.47 1086.06Z" fill="#DA0000"/>
<rect x="200.25" y="1007.50" width="6.9" height="24.70" fill="#DA0000"/>
<rect x="194.35" y="1004.00" width="18.7" height="7.0" fill="#DA0000"/>
<rect x="194.35" y="1028.70" width="18.7" height="7.0" fill="#DA0000"/>
<path d="M203.70 1010.31L213.15 1029.21L194.25 1029.21Z" fill="#DA0000"/>
<path d="M214.35 1011.24L223.80 1030.14L204.90 1030.14Z" fill="#DA0000"/>
<path d="M225.00 989.46L234.45 1008.36L215.55 1008.36Z" fill="#DA0000"/>
<rect x="264.15" y="898.35" width="6.9" height="32.35" fill="#DA0000"/>
<rect x="258.25" y="894.85" width="18.7" height="7.0" fill="#DA0000"/>
<rect x="258.25" y="927.20" width="18.7" height="7.0" fill="#DA0000"/>
<path d="M267.60 904.93L277.05 923.83L258.15 923.83Z" fill="#DA0000"/>
<rect x="391.95" y="765.00" width="6.9" height="38.10" fill="#DA0000"/>
<rect x="386.05" y="761.50" width="18.7" height="7.0" fill="#DA0000"/>
<rect x="386.05" y="799.60" width="18.7" height="7.0" fill="#DA0000"/>
<path d="M395.40 773.89L404.85 792.79L385.95 792.79Z" fill="#DA0000"/>
<path d="M501.90 738.27L511.35 757.17L492.45 757.17Z" fill="#DA0000"/>
<rect x="604.95" y="732.55" width="6.9" height="33.15" fill="#DA0000"/>
<rect x="599.05" y="729.05" width="18.7" height="7.0" fill="#DA0000"/>
<rect x="599.05" y="762.20" width="18.7" height="7.0" fill="#DA0000"/>
<path d="M608.40 739.57L617.85 758.47L598.95 758.47Z" fill="#DA0000"/>
<rect x="817.95" y="717.60" width="6.9" height="22.90" fill="#DA0000"/>
<rect x="812.05" y="714.10" width="18.7" height="7.0" fill="#DA0000"/>
<rect x="812.05" y="737.00" width="18.7" height="7.0" fill="#DA0000"/>
<path d="M821.40 718.89L830.85 737.79L811.95 737.79Z" fill="#DA0000"/>
<path d="M182.40,1132.90 L182.83,1130.64 L183.25,1128.40 L183.68,1126.19 L184.10,1123.99 L184.53,1121.81 L184.96,1119.66 L185.38,1117.52 L185.81,1115.41 L186.23,1113.31 L186.66,1111.24 L187.09,1109.18 L187.51,1107.14 L187.94,1105.12 L188.36,1103.12 L188.79,1101.13 L189.22,1099.17 L189.64,1097.22 L190.07,1095.29 L190.49,1093.37 L190.92,1091.47 L191.35,1089.59 L191.77,1087.73 L192.20,1085.88 L192.62,1084.04 L193.05,1082.23 L193.48,1080.43 L193.90,1078.64 L194.33,1076.87 L194.75,1075.11 L195.18,1073.37 L195.61,1071.64 L196.03,1069.93 L196.46,1068.23 L196.88,1066.55 L197.31,1064.88 L197.74,1063.22 L198.16,1061.58 L198.59,1059.95 L199.01,1058.33 L199.44,1056.73 L199.87,1055.14 L200.29,1053.56 L200.72,1052.00 L201.14,1050.44 L201.57,1048.90 L202.00,1047.37 L202.42,1045.86 L202.85,1044.35 L203.27,1042.86 L203.70,1041.38 L204.13,1039.91 L204.55,1038.45 L204.98,1037.00 L205.40,1035.57 L205.83,1034.14 L206.26,1032.73 L206.68,1031.32 L207.11,1029.93 L207.53,1028.55 L207.96,1027.17 L208.39,1025.81 L208.81,1024.46 L209.24,1023.12 L209.66,1021.78 L210.09,1020.46 L210.52,1019.15 L210.94,1017.84 L211.37,1016.55 L211.79,1015.27 L212.22,1013.99 L212.65,1012.72 L213.07,1011.47 L213.50,1010.22 L213.92,1008.98 L214.35,1007.75 L214.78,1006.53 L215.20,1005.31 L215.63,1004.11 L216.05,1002.91 L216.48,1001.72 L216.91,1000.54 L217.33,999.37 L217.76,998.21 L218.18,997.05 L218.61,995.90 L219.04,994.76 L219.46,993.63 L219.89,992.51 L220.31,991.39 L220.74,990.28 L221.17,989.18 L221.59,988.08 L222.02,987.00 L222.44,985.91 L222.87,984.84 L223.30,983.78 L223.72,982.72 L224.15,981.66 L224.57,980.62 L225.00,979.58 L225.43,978.55 L225.85,977.52 L226.28,976.50 L226.70,975.49 L227.13,974.49 L227.56,973.49 L227.98,972.49 L228.41,971.51 L228.83,970.53 L229.26,969.55 L229.69,968.58 L230.11,967.62 L230.54,966.67 L230.96,965.72 L231.39,964.77 L231.82,963.83 L232.24,962.90 L232.67,961.97 L233.09,961.05 L233.52,960.14 L233.95,959.23 L234.37,958.32 L234.80,957.42 L235.22,956.53 L235.65,955.64 L236.08,954.76 L236.50,953.88 L236.93,953.01 L237.35,952.14 L237.78,951.28 L238.21,950.42 L238.63,949.57 L239.06,948.72 L239.48,947.88 L239.91,947.04 L240.34,946.21 L240.76,945.38 L241.19,944.56 L241.61,943.74 L242.04,942.93 L242.47,942.12 L242.89,941.32 L243.32,940.52 L243.74,939.72 L244.17,938.93 L244.60,938.15 L245.02,937.36 L245.45,936.59 L245.87,935.82 L246.30,935.05 L246.73,934.28 L247.15,933.52 L247.58,932.77 L248.00,932.02 L248.43,931.27 L248.86,930.53 L249.28,929.79 L249.71,929.05 L250.13,928.32 L250.56,927.59 L250.99,926.87 L251.41,926.15 L251.84,925.43 L252.26,924.72 L252.69,924.02 L253.12,923.31 L253.54,922.61 L253.97,921.91 L254.39,921.22 L254.82,920.53 L255.25,919.85 L255.67,919.17 L256.10,918.49 L256.52,917.81 L256.95,917.14 L257.38,916.47 L257.80,915.81 L258.23,915.15 L258.65,914.49 L259.08,913.84 L259.51,913.19 L259.93,912.54 L260.36,911.90 L260.78,911.25 L261.21,910.62 L261.64,909.98 L262.06,909.35 L262.49,908.72 L262.91,908.10 L263.34,907.48 L263.77,906.86 L264.19,906.24 L264.62,905.63 L265.04,905.02 L265.47,904.42 L265.90,903.81 L266.32,903.21 L266.75,902.62 L267.17,902.02 L267.60,901.43 L268.03,900.84 L268.45,900.26 L268.88,899.67 L269.30,899.09 L269.73,898.52 L270.16,897.94 L270.58,897.37 L271.01,896.80 L271.43,896.24 L271.86,895.67 L272.29,895.11 L272.71,894.55 L273.14,894.00 L273.56,893.45 L273.99,892.90 L274.42,892.35 L274.84,891.80 L275.27,891.26 L275.69,890.72 L276.12,890.18 L276.55,889.65 L276.97,889.12 L277.40,888.59 L277.82,888.06 L278.25,887.53 L278.68,887.01 L279.10,886.49 L279.53,885.97 L279.95,885.46 L280.38,884.95 L280.81,884.44 L281.23,883.93 L281.66,883.42 L282.08,882.92 L282.51,882.42 L282.94,881.92 L283.36,881.42 L283.79,880.92 L284.21,880.43 L284.64,879.94 L285.07,879.45 L285.49,878.97 L285.92,878.48 L286.34,878.00 L286.77,877.52 L287.20,877.04 L287.62,876.57 L288.05,876.10 L288.47,875.63 L288.90,875.16 L289.33,874.69 L289.75,874.22 L290.18,873.76 L290.60,873.30 L291.03,872.84 L291.46,872.38 L291.88,871.93 L292.31,871.48 L292.73,871.02 L293.16,870.57 L293.59,870.13 L294.01,869.68 L294.44,869.24 L294.86,868.80 L295.29,868.36 L295.72,867.92 L296.14,867.48 L296.57,867.05 L296.99,866.62 L297.42,866.19 L297.85,865.76 L298.27,865.33 L298.70,864.90 L299.12,864.48 L299.55,864.06 L299.98,863.64 L300.40,863.22 L300.83,862.80 L301.25,862.39 L301.68,861.98 L302.11,861.56 L302.53,861.15 L302.96,860.75 L303.38,860.34 L303.81,859.94 L304.24,859.53 L304.66,859.13 L305.09,858.73 L305.51,858.33 L305.94,857.94 L306.37,857.54 L306.79,857.15 L307.22,856.75 L307.64,856.36 L308.07,855.98 L308.50,855.59 L308.92,855.20 L309.35,854.82 L309.77,854.44 L310.20,854.05 L310.63,853.67 L311.05,853.30 L311.48,852.92 L311.90,852.54 L312.33,852.17 L312.76,851.80 L313.18,851.43 L313.61,851.06 L314.03,850.69 L314.46,850.32 L314.89,849.96 L315.31,849.59 L315.74,849.23 L316.16,848.87 L316.59,848.51 L317.02,848.15 L317.44,847.80 L317.87,847.44 L318.29,847.09 L318.72,846.73 L319.15,846.38 L319.57,846.03 L320.00,845.68 L320.42,845.33 L320.85,844.99 L321.28,844.64 L321.70,844.30 L322.13,843.96 L322.55,843.62 L322.98,843.28 L323.41,842.94 L323.83,842.60 L324.26,842.26 L324.68,841.93 L325.11,841.60 L325.54,841.26 L325.96,840.93 L326.39,840.60 L326.81,840.27 L327.24,839.95 L327.67,839.62 L328.09,839.29 L328.52,838.97 L328.94,838.65 L329.37,838.33 L329.80,838.01 L330.22,837.69 L330.65,837.37 L331.07,837.05 L331.50,836.73 L331.93,836.42 L332.35,836.11 L332.78,835.79 L333.20,835.48 L333.63,835.17 L334.06,834.86 L334.48,834.55 L334.91,834.25 L335.33,833.94 L335.76,833.64 L336.19,833.33 L336.61,833.03 L337.04,832.73 L337.46,832.43 L337.89,832.13 L338.32,831.83 L338.74,831.53 L339.17,831.24 L339.59,830.94 L340.02,830.65 L340.45,830.35 L340.87,830.06 L341.30,829.77 L341.72,829.48 L342.15,829.19 L342.58,828.90 L343.00,828.61 L343.43,828.33 L343.85,828.04 L344.28,827.76 L344.71,827.47 L345.13,827.19 L345.56,826.91 L345.98,826.63 L346.41,826.35 L346.84,826.07 L347.26,825.79 L347.69,825.52 L348.11,825.24 L348.54,824.96 L348.97,824.69 L349.39,824.42 L349.82,824.14 L350.24,823.87 L350.67,823.60 L351.10,823.33 L351.52,823.06 L351.95,822.80 L352.37,822.53 L352.80,822.26 L353.23,822.00 L353.65,821.73 L354.08,821.47 L354.50,821.21 L354.93,820.95 L355.36,820.69 L355.78,820.43 L356.21,820.17 L356.63,819.91 L357.06,819.65 L357.49,819.39 L357.91,819.14 L358.34,818.88 L358.76,818.63 L359.19,818.38 L359.62,818.12 L360.04,817.87 L360.47,817.62 L360.89,817.37 L361.32,817.12 L361.75,816.87 L362.17,816.62 L362.60,816.38 L363.02,816.13 L363.45,815.89 L363.88,815.64 L364.30,815.40 L364.73,815.15 L365.15,814.91 L365.58,814.67 L366.01,814.43 L366.43,814.19 L366.86,813.95 L367.28,813.71 L367.71,813.47 L368.14,813.24 L368.56,813.00 L368.99,812.76 L369.41,812.53 L369.84,812.30 L370.27,812.06 L370.69,811.83 L371.12,811.60 L371.54,811.37 L371.97,811.14 L372.40,810.91 L372.82,810.68 L373.25,810.45 L373.67,810.22 L374.10,809.99 L374.53,809.77 L374.95,809.54 L375.38,809.32 L375.80,809.09 L376.23,808.87 L376.66,808.64 L377.08,808.42 L377.51,808.20 L377.93,807.98 L378.36,807.76 L378.79,807.54 L379.21,807.32 L379.64,807.10 L380.06,806.88 L380.49,806.67 L380.92,806.45 L381.34,806.23 L381.77,806.02 L382.19,805.81 L382.62,805.59 L383.05,805.38 L383.47,805.17 L383.90,804.95 L384.32,804.74 L384.75,804.53 L385.18,804.32 L385.60,804.11 L386.03,803.90 L386.45,803.69 L386.88,803.49 L387.31,803.28 L387.73,803.07 L388.16,802.87 L388.58,802.66 L389.01,802.46 L389.44,802.25 L389.86,802.05 L390.29,801.85 L390.71,801.64 L391.14,801.44 L391.57,801.24 L391.99,801.04 L392.42,800.84 L392.84,800.64 L393.27,800.44 L393.70,800.24 L394.12,800.05 L394.55,799.85 L394.97,799.65 L395.40,799.46 L395.83,799.26 L396.25,799.06 L396.68,798.87 L397.10,798.68 L397.53,798.48 L397.96,798.29 L398.38,798.10 L398.81,797.91 L399.23,797.71 L399.66,797.52 L400.09,797.33 L400.51,797.14 L400.94,796.95 L401.36,796.77 L401.79,796.58 L402.22,796.39 L402.64,796.20 L403.07,796.02 L403.49,795.83 L403.92,795.65 L404.35,795.46 L404.77,795.28 L405.20,795.09 L405.62,794.91 L406.05,794.73 L406.48,794.54 L406.90,794.36 L407.33,794.18 L407.75,794.00 L408.18,793.82 L408.61,793.64 L409.03,793.46 L409.46,793.28 L409.88,793.10 L410.31,792.92 L410.74,792.75 L411.16,792.57 L411.59,792.39 L412.01,792.22 L412.44,792.04 L412.87,791.86 L413.29,791.69 L413.72,791.52 L414.14,791.34 L414.57,791.17 L415.00,790.99 L415.42,790.82 L415.85,790.65 L416.27,790.48 L416.70,790.31 L417.13,790.14 L417.55,789.97 L417.98,789.80 L418.40,789.63 L418.83,789.46 L419.26,789.29 L419.68,789.12 L420.11,788.96 L420.53,788.79 L420.96,788.62 L421.39,788.46 L421.81,788.29 L422.24,788.12 L422.66,787.96 L423.09,787.79 L423.52,787.63 L423.94,787.47 L424.37,787.30 L424.79,787.14 L425.22,786.98 L425.65,786.82 L426.07,786.65 L426.50,786.49 L426.92,786.33 L427.35,786.17 L427.78,786.01 L428.20,785.85 L428.63,785.69 L429.05,785.53 L429.48,785.38 L429.91,785.22 L430.33,785.06 L430.76,784.90 L431.18,784.75 L431.61,784.59 L432.04,784.44 L432.46,784.28 L432.89,784.12 L433.31,783.97 L433.74,783.82 L434.17,783.66 L434.59,783.51 L435.02,783.35 L435.44,783.20 L435.87,783.05 L436.30,782.90 L436.72,782.75 L437.15,782.59 L437.57,782.44 L438.00,782.29 L438.43,782.14 L438.85,781.99 L439.28,781.84 L439.70,781.69 L440.13,781.55 L440.56,781.40 L440.98,781.25 L441.41,781.10 L441.83,780.95 L442.26,780.81 L442.69,780.66 L443.11,780.51 L443.54,780.37 L443.96,780.22 L444.39,780.08 L444.82,779.93 L445.24,779.79 L445.67,779.64 L446.09,779.50 L446.52,779.36 L446.95,779.21 L447.37,779.07 L447.80,778.93 L448.22,778.79 L448.65,778.65 L449.08,778.50 L449.50,778.36 L449.93,778.22 L450.35,778.08 L450.78,777.94 L451.21,777.80 L451.63,777.66 L452.06,777.52 L452.48,777.39 L452.91,777.25 L453.34,777.11 L453.76,776.97 L454.19,776.83 L454.61,776.70 L455.04,776.56 L455.47,776.42 L455.89,776.29 L456.32,776.15 L456.74,776.02 L457.17,775.88 L457.60,775.75 L458.02,775.61 L458.45,775.48 L458.87,775.35 L459.30,775.21 L459.73,775.08 L460.15,774.95 L460.58,774.81 L461.00,774.68 L461.43,774.55 L461.86,774.42 L462.28,774.29 L462.71,774.15 L463.13,774.02 L463.56,773.89 L463.99,773.76 L464.41,773.63 L464.84,773.50 L465.26,773.37 L465.69,773.25 L466.12,773.12 L466.54,772.99 L466.97,772.86 L467.39,772.73 L467.82,772.61 L468.25,772.48 L468.67,772.35 L469.10,772.22 L469.52,772.10 L469.95,771.97 L470.38,771.85 L470.80,771.72 L471.23,771.60 L471.65,771.47 L472.08,771.35 L472.51,771.22 L472.93,771.10 L473.36,770.97 L473.78,770.85 L474.21,770.73 L474.64,770.60 L475.06,770.48 L475.49,770.36 L475.91,770.24 L476.34,770.11 L476.77,769.99 L477.19,769.87 L477.62,769.75 L478.04,769.63 L478.47,769.51 L478.90,769.39 L479.32,769.27 L479.75,769.15 L480.17,769.03 L480.60,768.91 L481.03,768.79 L481.45,768.67 L481.88,768.55 L482.30,768.44 L482.73,768.32 L483.16,768.20 L483.58,768.08 L484.01,767.97 L484.43,767.85 L484.86,767.73 L485.29,767.62 L485.71,767.50 L486.14,767.38 L486.56,767.27 L486.99,767.15 L487.42,767.04 L487.84,766.92 L488.27,766.81 L488.69,766.69 L489.12,766.58 L489.55,766.47 L489.97,766.35 L490.40,766.24 L490.82,766.13 L491.25,766.01 L491.68,765.90 L492.10,765.79 L492.53,765.68 L492.95,765.56 L493.38,765.45 L493.81,765.34 L494.23,765.23 L494.66,765.12 L495.08,765.01 L495.51,764.90 L495.94,764.79 L496.36,764.68 L496.79,764.57 L497.21,764.46 L497.64,764.35 L498.07,764.24 L498.49,764.13 L498.92,764.02 L499.34,763.91 L499.77,763.81 L500.20,763.70 L500.62,763.59 L501.05,763.48 L501.47,763.37 L501.90,763.27 L502.33,763.16 L502.75,763.05 L503.18,762.95 L503.60,762.84 L504.03,762.74 L504.46,762.63 L504.88,762.52 L505.31,762.42 L505.73,762.31 L506.16,762.21 L506.59,762.10 L507.01,762.00 L507.44,761.90 L507.86,761.79 L508.29,761.69 L508.72,761.58 L509.14,761.48 L509.57,761.38 L509.99,761.27 L510.42,761.17 L510.85,761.07 L511.27,760.97 L511.70,760.86 L512.12,760.76 L512.55,760.66 L512.98,760.56 L513.40,760.46 L513.83,760.36 L514.25,760.26 L514.68,760.16 L515.11,760.06 L515.53,759.96 L515.96,759.85 L516.38,759.76 L516.81,759.66 L517.24,759.56 L517.66,759.46 L518.09,759.36 L518.51,759.26 L518.94,759.16 L519.37,759.06 L519.79,758.96 L520.22,758.87 L520.64,758.77 L521.07,758.67 L521.50,758.57 L521.92,758.47 L522.35,758.38 L522.77,758.28 L523.20,758.18 L523.63,758.09 L524.05,757.99 L524.48,757.90 L524.90,757.80 L525.33,757.70 L525.76,757.61 L526.18,757.51 L526.61,757.42 L527.03,757.32 L527.46,757.23 L527.89,757.13 L528.31,757.04 L528.74,756.94 L529.16,756.85 L529.59,756.76 L530.02,756.66 L530.44,756.57 L530.87,756.48 L531.29,756.38 L531.72,756.29 L532.15,756.20 L532.57,756.10 L533.00,756.01 L533.42,755.92 L533.85,755.83 L534.28,755.74 L534.70,755.64 L535.13,755.55 L535.55,755.46 L535.98,755.37 L536.41,755.28 L536.83,755.19 L537.26,755.10 L537.68,755.01 L538.11,754.92 L538.54,754.83 L538.96,754.74 L539.39,754.65 L539.81,754.56 L540.24,754.47 L540.67,754.38 L541.09,754.29 L541.52,754.20 L541.94,754.11 L542.37,754.02 L542.80,753.93 L543.22,753.85 L543.65,753.76 L544.07,753.67 L544.50,753.58 L544.93,753.49 L545.35,753.41 L545.78,753.32 L546.20,753.23 L546.63,753.14 L547.06,753.06 L547.48,752.97 L547.91,752.88 L548.33,752.80 L548.76,752.71 L549.19,752.63 L549.61,752.54 L550.04,752.45 L550.46,752.37 L550.89,752.28 L551.32,752.20 L551.74,752.11 L552.17,752.03 L552.59,751.94 L553.02,751.86 L553.45,751.78 L553.87,751.69 L554.30,751.61 L554.72,751.52 L555.15,751.44 L555.58,751.36 L556.00,751.27 L556.43,751.19 L556.85,751.11 L557.28,751.02 L557.71,750.94 L558.13,750.86 L558.56,750.77 L558.98,750.69 L559.41,750.61 L559.84,750.53 L560.26,750.45 L560.69,750.36 L561.11,750.28 L561.54,750.20 L561.97,750.12 L562.39,750.04 L562.82,749.96 L563.24,749.88 L563.67,749.80 L564.10,749.71 L564.52,749.63 L564.95,749.55 L565.37,749.47 L565.80,749.39 L566.23,749.31 L566.65,749.23 L567.08,749.15 L567.50,749.08 L567.93,749.00 L568.36,748.92 L568.78,748.84 L569.21,748.76 L569.63,748.68 L570.06,748.60 L570.49,748.52 L570.91,748.44 L571.34,748.37 L571.76,748.29 L572.19,748.21 L572.62,748.13 L573.04,748.06 L573.47,747.98 L573.89,747.90 L574.32,747.82 L574.75,747.75 L575.17,747.67 L575.60,747.59 L576.02,747.52 L576.45,747.44 L576.88,747.36 L577.30,747.29 L577.73,747.21 L578.15,747.13 L578.58,747.06 L579.01,746.98 L579.43,746.91 L579.86,746.83 L580.28,746.76 L580.71,746.68 L581.14,746.61 L581.56,746.53 L581.99,746.46 L582.41,746.38 L582.84,746.31 L583.27,746.23 L583.69,746.16 L584.12,746.08 L584.54,746.01 L584.97,745.94 L585.40,745.86 L585.82,745.79 L586.25,745.71 L586.67,745.64 L587.10,745.57 L587.53,745.50 L587.95,745.42 L588.38,745.35 L588.80,745.28 L589.23,745.20 L589.66,745.13 L590.08,745.06 L590.51,744.99 L590.93,744.91 L591.36,744.84 L591.79,744.77 L592.21,744.70 L592.64,744.63 L593.06,744.56 L593.49,744.48 L593.92,744.41 L594.34,744.34 L594.77,744.27 L595.19,744.20 L595.62,744.13 L596.05,744.06 L596.47,743.99 L596.90,743.92 L597.32,743.85 L597.75,743.78 L598.18,743.71 L598.60,743.64 L599.03,743.57 L599.45,743.50 L599.88,743.43 L600.31,743.36 L600.73,743.29 L601.16,743.22 L601.58,743.15 L602.01,743.08 L602.44,743.01 L602.86,742.94 L603.29,742.87 L603.71,742.81 L604.14,742.74 L604.57,742.67 L604.99,742.60 L605.42,742.53 L605.84,742.46 L606.27,742.40 L606.70,742.33 L607.12,742.26 L607.55,742.19 L607.97,742.13 L608.40,742.06 L608.83,741.99 L609.25,741.92 L609.68,741.86 L610.10,741.79 L610.53,741.72 L610.96,741.66 L611.38,741.59 L611.81,741.52 L612.23,741.46 L612.66,741.39 L613.09,741.33 L613.51,741.26 L613.94,741.19 L614.36,741.13 L614.79,741.06 L615.22,741.00 L615.64,740.93 L616.07,740.87 L616.49,740.80 L616.92,740.74 L617.35,740.67 L617.77,740.61 L618.20,740.54 L618.62,740.48 L619.05,740.41 L619.48,740.35 L619.90,740.28 L620.33,740.22 L620.75,740.15 L621.18,740.09 L621.61,740.03 L622.03,739.96 L622.46,739.90 L622.88,739.83 L623.31,739.77 L623.74,739.71 L624.16,739.64 L624.59,739.58 L625.01,739.52 L625.44,739.45 L625.87,739.39 L626.29,739.33 L626.72,739.27 L627.14,739.20 L627.57,739.14 L628.00,739.08 L628.42,739.02 L628.85,738.95 L629.27,738.89 L629.70,738.83 L630.13,738.77 L630.55,738.71 L630.98,738.64 L631.40,738.58 L631.83,738.52 L632.26,738.46 L632.68,738.40 L633.11,738.34 L633.53,738.27 L633.96,738.21 L634.39,738.15 L634.81,738.09 L635.24,738.03 L635.66,737.97 L636.09,737.91 L636.52,737.85 L636.94,737.79 L637.37,737.73 L637.79,737.67 L638.22,737.61 L638.65,737.55 L639.07,737.49 L639.50,737.43 L639.92,737.37 L640.35,737.31 L640.78,737.25 L641.20,737.19 L641.63,737.13 L642.05,737.07 L642.48,737.01 L642.91,736.95 L643.33,736.89 L643.76,736.83 L644.18,736.78 L644.61,736.72 L645.04,736.66 L645.46,736.60 L645.89,736.54 L646.31,736.48 L646.74,736.42 L647.17,736.37 L647.59,736.31 L648.02,736.25 L648.44,736.19 L648.87,736.13 L649.30,736.08 L649.72,736.02 L650.15,735.96 L650.57,735.90 L651.00,735.85 L651.43,735.79 L651.85,735.73 L652.28,735.67 L652.70,735.62 L653.13,735.56 L653.56,735.50 L653.98,735.45 L654.41,735.39 L654.83,735.33 L655.26,735.28 L655.69,735.22 L656.11,735.16 L656.54,735.11 L656.96,735.05 L657.39,734.99 L657.82,734.94 L658.24,734.88 L658.67,734.83 L659.09,734.77 L659.52,734.72 L659.95,734.66 L660.37,734.60 L660.80,734.55 L661.22,734.49 L661.65,734.44 L662.08,734.38 L662.50,734.33 L662.93,734.27 L663.35,734.22 L663.78,734.16 L664.21,734.11 L664.63,734.05 L665.06,734.00 L665.48,733.94 L665.91,733.89 L666.34,733.84 L666.76,733.78 L667.19,733.73 L667.61,733.67 L668.04,733.62 L668.47,733.56 L668.89,733.51 L669.32,733.46 L669.74,733.40 L670.17,733.35 L670.60,733.30 L671.02,733.24 L671.45,733.19 L671.87,733.14 L672.30,733.08 L672.73,733.03 L673.15,732.98 L673.58,732.92 L674.00,732.87 L674.43,732.82 L674.86,732.76 L675.28,732.71 L675.71,732.66 L676.13,732.61 L676.56,732.55 L676.99,732.50 L677.41,732.45 L677.84,732.40 L678.26,732.34 L678.69,732.29 L679.12,732.24 L679.54,732.19 L679.97,732.14 L680.39,732.09 L680.82,732.03 L681.25,731.98 L681.67,731.93 L682.10,731.88 L682.52,731.83 L682.95,731.78 L683.38,731.72 L683.80,731.67 L684.23,731.62 L684.65,731.57 L685.08,731.52 L685.51,731.47 L685.93,731.42 L686.36,731.37 L686.78,731.32 L687.21,731.27 L687.64,731.22 L688.06,731.17 L688.49,731.11 L688.91,731.06 L689.34,731.01 L689.77,730.96 L690.19,730.91 L690.62,730.86 L691.04,730.81 L691.47,730.76 L691.90,730.71 L692.32,730.66 L692.75,730.61 L693.17,730.56 L693.60,730.52 L694.03,730.47 L694.45,730.42 L694.88,730.37 L695.30,730.32 L695.73,730.27 L696.16,730.22 L696.58,730.17 L697.01,730.12 L697.43,730.07 L697.86,730.02 L698.29,729.97 L698.71,729.93 L699.14,729.88 L699.56,729.83 L699.99,729.78 L700.42,729.73 L700.84,729.68 L701.27,729.64 L701.69,729.59 L702.12,729.54 L702.55,729.49 L702.97,729.44 L703.40,729.39 L703.82,729.35 L704.25,729.30 L704.68,729.25 L705.10,729.20 L705.53,729.16 L705.95,729.11 L706.38,729.06 L706.81,729.01 L707.23,728.97 L707.66,728.92 L708.08,728.87 L708.51,728.82 L708.94,728.78 L709.36,728.73 L709.79,728.68 L710.21,728.64 L710.64,728.59 L711.07,728.54 L711.49,728.50 L711.92,728.45 L712.34,728.40 L712.77,728.36 L713.20,728.31 L713.62,728.26 L714.05,728.22 L714.47,728.17 L714.90,728.12 L715.33,728.08 L715.75,728.03 L716.18,727.99 L716.60,727.94 L717.03,727.89 L717.46,727.85 L717.88,727.80 L718.31,727.76 L718.73,727.71 L719.16,727.67 L719.59,727.62 L720.01,727.57 L720.44,727.53 L720.86,727.48 L721.29,727.44 L721.72,727.39 L722.14,727.35 L722.57,727.30 L722.99,727.26 L723.42,727.21 L723.85,727.17 L724.27,727.12 L724.70,727.08 L725.12,727.03 L725.55,726.99 L725.98,726.94 L726.40,726.90 L726.83,726.86 L727.25,726.81 L727.68,726.77 L728.11,726.72 L728.53,726.68 L728.96,726.63 L729.38,726.59 L729.81,726.55 L730.24,726.50 L730.66,726.46 L731.09,726.41 L731.51,726.37 L731.94,726.33 L732.37,726.28 L732.79,726.24 L733.22,726.20 L733.64,726.15 L734.07,726.11 L734.50,726.06 L734.92,726.02 L735.35,725.98 L735.77,725.93 L736.20,725.89 L736.63,725.85 L737.05,725.81 L737.48,725.76 L737.90,725.72 L738.33,725.68 L738.76,725.63 L739.18,725.59 L739.61,725.55 L740.03,725.51 L740.46,725.46 L740.89,725.42 L741.31,725.38 L741.74,725.34 L742.16,725.29 L742.59,725.25 L743.02,725.21 L743.44,725.17 L743.87,725.12 L744.29,725.08 L744.72,725.04 L745.15,725.00 L745.57,724.96 L746.00,724.91 L746.42,724.87 L746.85,724.83 L747.28,724.79 L747.70,724.75 L748.13,724.71 L748.55,724.66 L748.98,724.62 L749.41,724.58 L749.83,724.54 L750.26,724.50 L750.68,724.46 L751.11,724.42 L751.54,724.37 L751.96,724.33 L752.39,724.29 L752.81,724.25 L753.24,724.21 L753.67,724.17 L754.09,724.13 L754.52,724.09 L754.94,724.05 L755.37,724.01 L755.80,723.96 L756.22,723.92 L756.65,723.88 L757.07,723.84 L757.50,723.80 L757.93,723.76 L758.35,723.72 L758.78,723.68 L759.20,723.64 L759.63,723.60 L760.06,723.56 L760.48,723.52 L760.91,723.48 L761.33,723.44 L761.76,723.40 L762.19,723.36 L762.61,723.32 L763.04,723.28 L763.46,723.24 L763.89,723.20 L764.32,723.16 L764.74,723.12 L765.17,723.08 L765.59,723.04 L766.02,723.00 L766.45,722.96 L766.87,722.93 L767.30,722.89 L767.72,722.85 L768.15,722.81 L768.58,722.77 L769.00,722.73 L769.43,722.69 L769.85,722.65 L770.28,722.61 L770.71,722.57 L771.13,722.53 L771.56,722.50 L771.98,722.46 L772.41,722.42 L772.84,722.38 L773.26,722.34 L773.69,722.30 L774.11,722.26 L774.54,722.23 L774.97,722.19 L775.39,722.15 L775.82,722.11 L776.24,722.07 L776.67,722.03 L777.10,722.00 L777.52,721.96 L777.95,721.92 L778.37,721.88 L778.80,721.84 L779.23,721.81 L779.65,721.77 L780.08,721.73 L780.50,721.69 L780.93,721.65 L781.36,721.62 L781.78,721.58 L782.21,721.54 L782.63,721.50 L783.06,721.47 L783.49,721.43 L783.91,721.39 L784.34,721.35 L784.76,721.32 L785.19,721.28 L785.62,721.24 L786.04,721.20 L786.47,721.17 L786.89,721.13 L787.32,721.09 L787.75,721.06 L788.17,721.02 L788.60,720.98 L789.02,720.95 L789.45,720.91 L789.88,720.87 L790.30,720.84 L790.73,720.80 L791.15,720.76 L791.58,720.73 L792.01,720.69 L792.43,720.65 L792.86,720.62 L793.28,720.58 L793.71,720.54 L794.14,720.51 L794.56,720.47 L794.99,720.43 L795.41,720.40 L795.84,720.36 L796.27,720.33 L796.69,720.29 L797.12,720.25 L797.54,720.22 L797.97,720.18 L798.40,720.15 L798.82,720.11 L799.25,720.07 L799.67,720.04 L800.10,720.00 L800.53,719.97 L800.95,719.93 L801.38,719.90 L801.80,719.86 L802.23,719.82 L802.66,719.79 L803.08,719.75 L803.51,719.72 L803.93,719.68 L804.36,719.65 L804.79,719.61 L805.21,719.58 L805.64,719.54 L806.06,719.51 L806.49,719.47 L806.92,719.44 L807.34,719.40 L807.77,719.37 L808.19,719.33 L808.62,719.30 L809.05,719.26 L809.47,719.23 L809.90,719.19 L810.32,719.16 L810.75,719.12 L811.18,719.09 L811.60,719.05 L812.03,719.02 L812.45,718.98 L812.88,718.95 L813.31,718.92 L813.73,718.88 L814.16,718.85 L814.58,718.81 L815.01,718.78 L815.44,718.74 L815.86,718.71 L816.29,718.68 L816.71,718.64 L817.14,718.61 L817.57,718.57 L817.99,718.54 L818.42,718.51 L818.84,718.47 L819.27,718.44 L819.70,718.40 L820.12,718.37 L820.55,718.34 L820.97,718.30 L821.40,718.27" fill="none" stroke="#DA0000" stroke-width="4.8" stroke-dasharray="14.1 8.64" stroke-dashoffset="19.0" stroke-linejoin="round"/>
<path d="M182.40,1132.90 L183.20,1128.20 L184.00,1123.66 L184.80,1119.28 L185.59,1115.06 L186.39,1110.97 L187.19,1107.02 L187.99,1103.19 L188.79,1099.49 L189.59,1095.91 L190.39,1092.43 L191.19,1089.07 L191.99,1085.80 L192.78,1082.63 L193.58,1079.55 L194.38,1076.56 L195.18,1073.66 L195.98,1070.83 L196.78,1068.09 L197.58,1065.42 L198.38,1062.82 L199.17,1060.29 L199.97,1057.82 L200.77,1055.42 L201.57,1053.08 L202.37,1050.80 L203.17,1048.58 L203.97,1046.41 L204.77,1044.29 L205.56,1042.22 L206.36,1040.21 L207.16,1038.24 L207.96,1036.31 L208.76,1034.43 L209.56,1032.59 L210.36,1030.79 L211.16,1029.04 L211.95,1027.32 L212.75,1025.63 L213.55,1023.99 L214.35,1022.38 L215.15,1020.80 L215.95,1019.25 L216.75,1017.74 L217.55,1016.26 L218.34,1014.80 L219.14,1013.38 L219.94,1011.98 L220.74,1010.61 L221.54,1009.27 L222.34,1007.96 L223.14,1006.66 L223.94,1005.40 L224.73,1004.15 L225.53,1002.93 L226.33,1001.73 L227.13,1000.56 L227.93,999.40 L228.73,998.26 L229.53,997.15 L230.32,996.05 L231.12,994.98 L231.92,993.92 L232.72,992.88 L233.52,991.85 L234.32,990.85 L235.12,989.86 L235.92,988.88 L236.72,987.93 L237.51,986.99 L238.31,986.06 L239.11,985.15 L239.91,984.25 L240.71,983.37 L241.51,982.50 L242.31,981.64 L243.11,980.80 L243.90,979.97 L244.70,979.15 L245.50,978.35 L246.30,977.55 L247.10,976.77 L247.90,976.00 L248.70,975.24 L249.50,974.49 L250.29,973.76 L251.09,973.03 L251.89,972.31 L252.69,971.61 L253.49,970.91 L254.29,970.22 L255.09,969.54 L255.88,968.88 L256.68,968.22 L257.48,967.57 L258.28,966.92 L259.08,966.29 L259.88,965.67 L260.68,965.05 L261.48,964.44 L262.27,963.84 L263.07,963.25 L263.87,962.66 L264.67,962.08 L265.47,961.51 L266.27,960.95 L267.07,960.39 L267.87,959.84 L268.67,959.30 L269.46,958.76 L270.26,958.23 L271.06,957.71 L271.86,957.19 L272.66,956.68 L273.46,956.18 L274.26,955.68 L275.06,955.18 L275.85,954.70 L276.65,954.21 L277.45,953.74 L278.25,953.27 L279.05,952.80 L279.85,952.34 L280.65,951.89 L281.44,951.44 L282.24,950.99 L283.04,950.55 L283.84,950.12 L284.64,949.69 L285.44,949.26 L286.24,948.84 L287.04,948.42 L287.84,948.01 L288.63,947.61 L289.43,947.20 L290.23,946.80 L291.03,946.41 L291.83,946.02 L292.63,945.63 L293.43,945.25 L294.23,944.87 L295.02,944.49 L295.82,944.12 L296.62,943.76 L297.42,943.39 L298.22,943.03 L299.02,942.68 L299.82,942.32 L300.62,941.97 L301.41,941.63 L302.21,941.29 L303.01,940.95 L303.81,940.61 L304.61,940.28 L305.41,939.95 L306.21,939.62 L307.00,939.30 L307.80,938.98 L308.60,938.66 L309.40,938.35 L310.20,938.04 L311.00,937.73 L311.80,937.42 L312.60,937.12 L313.39,936.82 L314.19,936.52 L314.99,936.23 L315.79,935.94 L316.59,935.65 L317.39,935.36 L318.19,935.08 L318.99,934.80 L319.78,934.52 L320.58,934.24 L321.38,933.97 L322.18,933.69 L322.98,933.42 L323.78,933.16 L324.58,932.89 L325.38,932.63 L326.18,932.37 L326.97,932.11 L327.77,931.86 L328.57,931.60 L329.37,931.35 L330.17,931.10 L330.97,930.85 L331.77,930.61 L332.56,930.36 L333.36,930.12 L334.16,929.88 L334.96,929.65 L335.76,929.41 L336.56,929.18 L337.36,928.95 L338.16,928.72 L338.96,928.49 L339.75,928.26 L340.55,928.04 L341.35,927.81 L342.15,927.59 L342.95,927.37 L343.75,927.16 L344.55,926.94 L345.35,926.73 L346.14,926.51 L346.94,926.30 L347.74,926.09 L348.54,925.89 L349.34,925.68 L350.14,925.48 L350.94,925.27 L351.74,925.07 L352.53,924.87 L353.33,924.67 L354.13,924.48 L354.93,924.28 L355.73,924.09 L356.53,923.89 L357.33,923.70 L358.12,923.51 L358.92,923.32 L359.72,923.14 L360.52,922.95 L361.32,922.77 L362.12,922.58 L362.92,922.40 L363.72,922.22 L364.51,922.04 L365.31,921.86 L366.11,921.69 L366.91,921.51 L367.71,921.34 L368.51,921.16 L369.31,920.99 L370.11,920.82 L370.90,920.65 L371.70,920.48 L372.50,920.32 L373.30,920.15 L374.10,919.98 L374.90,919.82 L375.70,919.66 L376.50,919.50 L377.29,919.34 L378.09,919.18 L378.89,919.02 L379.69,918.86 L380.49,918.70 L381.29,918.55 L382.09,918.39 L382.89,918.24 L383.69,918.09 L384.48,917.94 L385.28,917.79 L386.08,917.64 L386.88,917.49 L387.68,917.34 L388.48,917.20 L389.28,917.05 L390.07,916.91 L390.87,916.76 L391.67,916.62 L392.47,916.48 L393.27,916.34 L394.07,916.20 L394.87,916.06 L395.67,915.92 L396.47,915.78 L397.26,915.65 L398.06,915.51 L398.86,915.37 L399.66,915.24 L400.46,915.11 L401.26,914.97 L402.06,914.84 L402.86,914.71 L403.65,914.58 L404.45,914.45 L405.25,914.32 L406.05,914.20 L406.85,914.07 L407.65,913.94 L408.45,913.82 L409.25,913.69 L410.04,913.57 L410.84,913.44 L411.64,913.32 L412.44,913.20 L413.24,913.08 L414.04,912.96 L414.84,912.84 L415.63,912.72 L416.43,912.60 L417.23,912.48 L418.03,912.37 L418.83,912.25 L419.63,912.13 L420.43,912.02 L421.23,911.90 L422.02,911.79 L422.82,911.68 L423.62,911.57 L424.42,911.45 L425.22,911.34 L426.02,911.23 L426.82,911.12 L427.62,911.01 L428.41,910.90 L429.21,910.80 L430.01,910.69 L430.81,910.58 L431.61,910.47 L432.41,910.37 L433.21,910.26 L434.01,910.16 L434.81,910.05 L435.60,909.95 L436.40,909.85 L437.20,909.75 L438.00,909.64 L438.80,909.54 L439.60,909.44 L440.40,909.34 L441.20,909.24 L441.99,909.14 L442.79,909.04 L443.59,908.94 L444.39,908.85 L445.19,908.75 L445.99,908.65 L446.79,908.56 L447.59,908.46 L448.38,908.37 L449.18,908.27 L449.98,908.18 L450.78,908.08 L451.58,907.99 L452.38,907.90 L453.18,907.80 L453.98,907.71 L454.77,907.62 L455.57,907.53 L456.37,907.44 L457.17,907.35 L457.97,907.26 L458.77,907.17 L459.57,907.08 L460.37,906.99 L461.16,906.91 L461.96,906.82 L462.76,906.73 L463.56,906.65 L464.36,906.56 L465.16,906.47 L465.96,906.39 L466.75,906.30 L467.55,906.22 L468.35,906.14 L469.15,906.05 L469.95,905.97 L470.75,905.89 L471.55,905.80 L472.35,905.72 L473.14,905.64 L473.94,905.56 L474.74,905.48 L475.54,905.40 L476.34,905.32 L477.14,905.24 L477.94,905.16 L478.74,905.08 L479.53,905.00 L480.33,904.92 L481.13,904.85 L481.93,904.77 L482.73,904.69 L483.53,904.61 L484.33,904.54 L485.13,904.46 L485.92,904.39 L486.72,904.31 L487.52,904.24 L488.32,904.16 L489.12,904.09 L489.92,904.01 L490.72,903.94 L491.52,903.87 L492.32,903.79 L493.11,903.72 L493.91,903.65 L494.71,903.58 L495.51,903.50 L496.31,903.43 L497.11,903.36 L497.91,903.29 L498.71,903.22 L499.50,903.15 L500.30,903.08 L501.10,903.01 L501.90,902.94 L502.70,902.87 L503.50,902.80 L504.30,902.74 L505.10,902.67 L505.89,902.60 L506.69,902.53 L507.49,902.47 L508.29,902.40 L509.09,902.33 L509.89,902.27 L510.69,902.20 L511.49,902.13 L512.28,902.07 L513.08,902.00 L513.88,901.94 L514.68,901.87 L515.48,901.81 L516.28,901.75 L517.08,901.68 L517.88,901.62 L518.67,901.56 L519.47,901.49 L520.27,901.43 L521.07,901.37 L521.87,901.31 L522.67,901.24 L523.47,901.18 L524.26,901.12 L525.06,901.06 L525.86,901.00 L526.66,900.94 L527.46,900.88 L528.26,900.82 L529.06,900.76 L529.86,900.70 L530.66,900.64 L531.45,900.58 L532.25,900.52 L533.05,900.46 L533.85,900.40 L534.65,900.35 L535.45,900.29 L536.25,900.23 L537.04,900.17 L537.84,900.12 L538.64,900.06 L539.44,900.00 L540.24,899.94 L541.04,899.89 L541.84,899.83 L542.64,899.78 L543.43,899.72 L544.23,899.67 L545.03,899.61 L545.83,899.55 L546.63,899.50 L547.43,899.45 L548.23,899.39 L549.03,899.34 L549.83,899.28 L550.62,899.23 L551.42,899.18 L552.22,899.12 L553.02,899.07 L553.82,899.02 L554.62,898.96 L555.42,898.91 L556.22,898.86 L557.01,898.81 L557.81,898.75 L558.61,898.70 L559.41,898.65 L560.21,898.60 L561.01,898.55 L561.81,898.50 L562.61,898.45 L563.40,898.40 L564.20,898.35 L565.00,898.30 L565.80,898.25 L566.60,898.20 L567.40,898.15 L568.20,898.10 L569.00,898.05 L569.79,898.00 L570.59,897.95 L571.39,897.90 L572.19,897.85 L572.99,897.80 L573.79,897.76 L574.59,897.71 L575.38,897.66 L576.18,897.61 L576.98,897.56 L577.78,897.52 L578.58,897.47 L579.38,897.42 L580.18,897.38 L580.98,897.33 L581.77,897.28 L582.57,897.24 L583.37,897.19 L584.17,897.15 L584.97,897.10 L585.77,897.05 L586.57,897.01 L587.37,896.96 L588.16,896.92 L588.96,896.87 L589.76,896.83 L590.56,896.78 L591.36,896.74 L592.16,896.69 L592.96,896.65 L593.76,896.61 L594.55,896.56 L595.35,896.52 L596.15,896.47 L596.95,896.43 L597.75,896.39 L598.55,896.35 L599.35,896.30 L600.15,896.26 L600.95,896.22 L601.74,896.17 L602.54,896.13 L603.34,896.09 L604.14,896.05 L604.94,896.01 L605.74,895.96 L606.54,895.92 L607.34,895.88 L608.13,895.84 L608.93,895.80 L609.73,895.76 L610.53,895.72 L611.33,895.67 L612.13,895.63 L612.93,895.59 L613.73,895.55 L614.52,895.51 L615.32,895.47 L616.12,895.43 L616.92,895.39 L617.72,895.35 L618.52,895.31 L619.32,895.27 L620.12,895.23 L620.91,895.20 L621.71,895.16 L622.51,895.12 L623.31,895.08 L624.11,895.04 L624.91,895.00 L625.71,894.96 L626.50,894.92 L627.30,894.89 L628.10,894.85 L628.90,894.81 L629.70,894.77 L630.50,894.73 L631.30,894.70 L632.10,894.66 L632.89,894.62 L633.69,894.59 L634.49,894.55 L635.29,894.51 L636.09,894.47 L636.89,894.44 L637.69,894.40 L638.49,894.36 L639.28,894.33 L640.08,894.29 L640.88,894.26 L641.68,894.22 L642.48,894.18 L643.28,894.15 L644.08,894.11 L644.88,894.08 L645.67,894.04 L646.47,894.01 L647.27,893.97 L648.07,893.94 L648.87,893.90 L649.67,893.87 L650.47,893.83 L651.27,893.80 L652.06,893.76 L652.86,893.73 L653.66,893.69 L654.46,893.66 L655.26,893.62 L656.06,893.59 L656.86,893.56 L657.66,893.52 L658.46,893.49 L659.25,893.45 L660.05,893.42 L660.85,893.39 L661.65,893.35 L662.45,893.32 L663.25,893.29 L664.05,893.25 L664.85,893.22 L665.64,893.19 L666.44,893.16 L667.24,893.12 L668.04,893.09 L668.84,893.06 L669.64,893.03 L670.44,892.99 L671.24,892.96 L672.03,892.93 L672.83,892.90 L673.63,892.87 L674.43,892.83 L675.23,892.80 L676.03,892.77 L676.83,892.74 L677.62,892.71 L678.42,892.68 L679.22,892.65 L680.02,892.61 L680.82,892.58 L681.62,892.55 L682.42,892.52 L683.22,892.49 L684.01,892.46 L684.81,892.43 L685.61,892.40 L686.41,892.37 L687.21,892.34 L688.01,892.31 L688.81,892.28 L689.61,892.25 L690.40,892.22 L691.20,892.19 L692.00,892.16 L692.80,892.13 L693.60,892.10 L694.40,892.07 L695.20,892.04 L696.00,892.01 L696.79,891.98 L697.59,891.95 L698.39,891.92 L699.19,891.89 L699.99,891.87 L700.79,891.84 L701.59,891.81 L702.39,891.78 L703.18,891.75 L703.98,891.72 L704.78,891.69 L705.58,891.67 L706.38,891.64 L707.18,891.61 L707.98,891.58 L708.78,891.55 L709.57,891.52 L710.37,891.50 L711.17,891.47 L711.97,891.44 L712.77,891.41 L713.57,891.39 L714.37,891.36 L715.17,891.33 L715.96,891.30 L716.76,891.28 L717.56,891.25 L718.36,891.22 L719.16,891.19 L719.96,891.17 L720.76,891.14 L721.56,891.11 L722.36,891.09 L723.15,891.06 L723.95,891.03 L724.75,891.01 L725.55,890.98 L726.35,890.95 L727.15,890.93 L727.95,890.90 L728.75,890.88 L729.54,890.85 L730.34,890.82 L731.14,890.80 L731.94,890.77 L732.74,890.75 L733.54,890.72 L734.34,890.69 L735.13,890.67 L735.93,890.64 L736.73,890.62 L737.53,890.59 L738.33,890.57 L739.13,890.54 L739.93,890.52 L740.73,890.49 L741.52,890.47 L742.32,890.44 L743.12,890.42 L743.92,890.39 L744.72,890.37 L745.52,890.34 L746.32,890.32 L747.12,890.29 L747.91,890.27 L748.71,890.24 L749.51,890.22 L750.31,890.19 L751.11,890.17 L751.91,890.15 L752.71,890.12 L753.51,890.10 L754.30,890.07 L755.10,890.05 L755.90,890.03 L756.70,890.00 L757.50,889.98 L758.30,889.95 L759.10,889.93 L759.90,889.91 L760.69,889.88 L761.49,889.86 L762.29,889.84 L763.09,889.81 L763.89,889.79 L764.69,889.77 L765.49,889.74 L766.29,889.72 L767.08,889.70 L767.88,889.67 L768.68,889.65 L769.48,889.63 L770.28,889.61 L771.08,889.58 L771.88,889.56 L772.68,889.54 L773.47,889.51 L774.27,889.49 L775.07,889.47 L775.87,889.45 L776.67,889.42 L777.47,889.40 L778.27,889.38 L779.07,889.36 L779.87,889.34 L780.66,889.31 L781.46,889.29 L782.26,889.27 L783.06,889.25 L783.86,889.23 L784.66,889.20 L785.46,889.18 L786.25,889.16 L787.05,889.14 L787.85,889.12 L788.65,889.10 L789.45,889.07 L790.25,889.05 L791.05,889.03 L791.85,889.01 L792.64,888.99 L793.44,888.97 L794.24,888.95 L795.04,888.92 L795.84,888.90 L796.64,888.88 L797.44,888.86 L798.24,888.84 L799.03,888.82 L799.83,888.80 L800.63,888.78 L801.43,888.76 L802.23,888.74 L803.03,888.72 L803.83,888.70 L804.63,888.67 L805.42,888.65 L806.22,888.63 L807.02,888.61 L807.82,888.59 L808.62,888.57 L809.42,888.55 L810.22,888.53 L811.02,888.51 L811.81,888.49 L812.61,888.47 L813.41,888.45 L814.21,888.43 L815.01,888.41 L815.81,888.39 L816.61,888.37 L817.41,888.35 L818.20,888.33 L819.00,888.31 L819.80,888.29 L820.60,888.27 L821.40,888.25" fill="none" stroke="#000" stroke-width="4.6" stroke-linejoin="round"/>
</svg></body></html>
